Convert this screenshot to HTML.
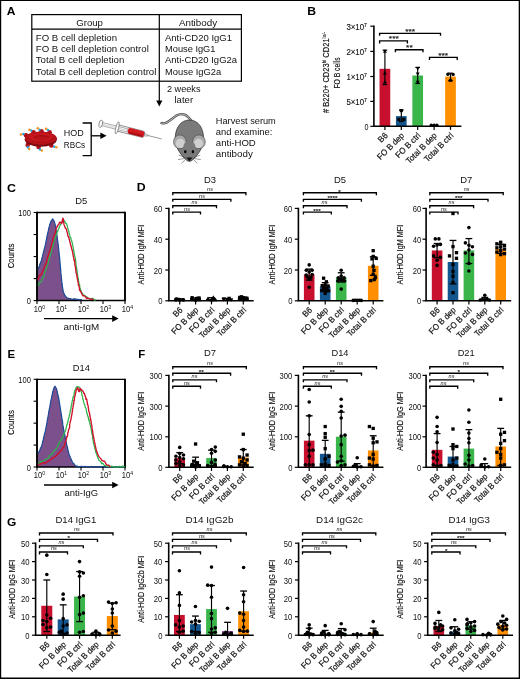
<!DOCTYPE html>
<html lang="en"><head><meta charset="utf-8"><title>Figure</title>
<style>html,body{margin:0;padding:0;background:#fff}svg{display:block}text{font-family:"Liberation Sans",sans-serif}</style></head>
<body>
<svg width="520" height="679" viewBox="0 0 520 679" font-family="'Liberation Sans', sans-serif" fill="#111">
<rect x="0" y="0" width="520" height="679" fill="#fff"/>
<text x="6.7" y="14.9" font-size="11.4" font-weight="bold" textLength="8.7" lengthAdjust="spacingAndGlyphs" fill="#000">A</text>
<text x="307.2" y="15.1" font-size="11.4" font-weight="bold" textLength="8.8" lengthAdjust="spacingAndGlyphs" fill="#000">B</text>
<text x="6.9" y="191.9" font-size="11.4" font-weight="bold" textLength="9" lengthAdjust="spacingAndGlyphs" fill="#000">C</text>
<text x="136.7" y="191.4" font-size="11.4" font-weight="bold" textLength="8.9" lengthAdjust="spacingAndGlyphs" fill="#000">D</text>
<text x="7.6" y="358.4" font-size="11.4" font-weight="bold" fill="#000">E</text>
<text x="138.2" y="358.4" font-size="11.4" font-weight="bold" fill="#000">F</text>
<text x="7" y="526.4" font-size="11.4" font-weight="bold" textLength="9.3" lengthAdjust="spacingAndGlyphs" fill="#000">G</text>
<g id="panelA">
<rect x="31.8" y="14.6" width="209.6" height="66.6" fill="none" stroke="#000" stroke-width="1.2"/>
<line x1="31.8" y1="29.2" x2="241.4" y2="29.2" stroke="#000" stroke-width="1.2"/>
<line x1="159.3" y1="14.6" x2="159.3" y2="101.5" stroke="#000" stroke-width="1.2"/>
<path d="M156.2 100.6L162.4 100.6L159.3 106.4Z" fill="#000"/>
<text x="89.6" y="25.6" font-size="9.1" text-anchor="middle" textLength="26.8" lengthAdjust="spacingAndGlyphs">Group</text>
<text x="198" y="25.6" font-size="9.1" text-anchor="middle" textLength="38.2" lengthAdjust="spacingAndGlyphs">Antibody</text>
<text x="35.8" y="40.6" font-size="9.1" textLength="81.2" lengthAdjust="spacingAndGlyphs">FO B cell depletion</text>
<text x="165" y="40.6" font-size="9.1" textLength="67" lengthAdjust="spacingAndGlyphs">Anti-CD20 IgG1</text>
<text x="35.8" y="51.9" font-size="9.1" textLength="113" lengthAdjust="spacingAndGlyphs">FO B cell depletion control</text>
<text x="165" y="51.9" font-size="9.1" textLength="50.5" lengthAdjust="spacingAndGlyphs">Mouse IgG1</text>
<text x="35.8" y="63.2" font-size="9.1" textLength="88.5" lengthAdjust="spacingAndGlyphs">Total B cell depletion</text>
<text x="165" y="63.2" font-size="9.1" textLength="72" lengthAdjust="spacingAndGlyphs">Anti-CD20 IgG2a</text>
<text x="35.8" y="74.5" font-size="9.1" textLength="120.6" lengthAdjust="spacingAndGlyphs">Total B cell depletion control</text>
<text x="165" y="74.5" font-size="9.1" textLength="56.2" lengthAdjust="spacingAndGlyphs">Mouse IgG2a</text>
<text x="167" y="92" font-size="9.1" textLength="33.5" lengthAdjust="spacingAndGlyphs">2 weeks</text>
<text x="174.5" y="102.6" font-size="9.1" textLength="18.6" lengthAdjust="spacingAndGlyphs">later</text>
<g id="rbc">
<circle cx="26" cy="135.2" r="2.3" fill="#b01019"/>
<circle cx="33.5" cy="132.3" r="2.3" fill="#b01019"/>
<circle cx="41.5" cy="131.2" r="2.3" fill="#b01019"/>
<circle cx="49.6" cy="132.3" r="2.3" fill="#b01019"/>
<circle cx="27.7" cy="145" r="2.3" fill="#b01019"/>
<circle cx="38.6" cy="147" r="2.3" fill="#b01019"/>
<circle cx="51.3" cy="145.4" r="2.3" fill="#b01019"/>
<circle cx="23.3" cy="134" r="1.25" fill="#1ea7e8"/>
<circle cx="21" cy="134.4" r="1.25" fill="#f7931e"/>
<circle cx="31.1" cy="130.6" r="1.25" fill="#1ea7e8"/>
<circle cx="29.4" cy="129.8" r="1.25" fill="#f7931e"/>
<circle cx="39.5" cy="129.8" r="1.25" fill="#1ea7e8"/>
<circle cx="37.8" cy="128.3" r="1.25" fill="#f7931e"/>
<circle cx="47.9" cy="130" r="1.25" fill="#1ea7e8"/>
<circle cx="46.1" cy="128.8" r="1.25" fill="#f7931e"/>
<circle cx="27.9" cy="147.3" r="1.25" fill="#1ea7e8"/>
<circle cx="29.1" cy="149" r="1.25" fill="#f7931e"/>
<circle cx="40.1" cy="149.4" r="1.25" fill="#1ea7e8"/>
<circle cx="41.9" cy="150.5" r="1.25" fill="#f7931e"/>
<circle cx="54.2" cy="146.7" r="1.25" fill="#1ea7e8"/>
<circle cx="56.3" cy="147.3" r="1.25" fill="#f7931e"/>
<ellipse cx="40.8" cy="139.2" rx="16.1" ry="7.5" fill="#7c090f"/>
<ellipse cx="40.8" cy="138.2" rx="15.8" ry="6.6" fill="#b41219"/>
<ellipse cx="41" cy="137" rx="12.5" ry="4.2" fill="#c5161d"/>
<ellipse cx="41.4" cy="137.2" rx="7.6" ry="2.1" fill="#a60e15"/>
<ellipse cx="41.6" cy="137.8" rx="6.4" ry="1.6" fill="#b81319"/>
</g>
<text x="63.8" y="136.3" font-size="9.1" textLength="20" lengthAdjust="spacingAndGlyphs">HOD</text>
<text x="63.8" y="148.1" font-size="9.1" textLength="21.4" lengthAdjust="spacingAndGlyphs">RBCs</text>
<path d="M82.6 123H91.2V155.6H82.6" fill="none" stroke="#000" stroke-width="1.3"/>
<line x1="91.2" y1="135.8" x2="101.5" y2="135.8" stroke="#000" stroke-width="1.3"/>
<path d="M100.4 132.6L106.6 135.8L100.4 139Z" fill="#000"/>
<g id="syringe" transform="translate(99.7 123.5) rotate(14)">
<line x1="49" y1="0" x2="63.8" y2="0" stroke="#777" stroke-width="0.7"/>
<path d="M45.6 -1.5L50 -0.5V0.5L45.6 1.5Z" fill="#ddd" stroke="#666" stroke-width="0.4"/>
<rect x="18" y="-3.2" width="27.8" height="6.4" rx="1.5" fill="#fff" stroke="#555" stroke-width="0.6"/>
<rect x="29.1" y="-3.0" width="16.6" height="6.0" rx="1.7" fill="#d3191f"/>
<rect x="30.2" y="0.9" width="14.6" height="1.8" rx="0.9" fill="#a50d13"/>
<rect x="2" y="-1.6" width="26.6" height="3.2" fill="#fff" stroke="#666" stroke-width="0.5"/>
<line x1="2.4" y1="0" x2="28" y2="0" stroke="#999" stroke-width="0.4"/>
<ellipse cx="1.1" cy="0" rx="1.7" ry="3.8" fill="#fff" stroke="#555" stroke-width="0.6"/>
<ellipse cx="18" cy="0" rx="1.4" ry="6.2" fill="#fff" stroke="#555" stroke-width="0.6"/>
</g>
<g id="mouse">
<path d="M191.6 121.4C187.5 114.5 182 112.2 176.5 115.6C170.5 119.4 166.5 125.2 160.6 122.8" fill="none" stroke="#333" stroke-width="2.3"/>
<path d="M191.6 121.4C187.5 114.5 182 112.2 176.5 115.6C170.5 119.4 166.5 125.2 160.6 122.8" fill="none" stroke="#aaa" stroke-width="1.2"/>
<path d="M189.4 120C198.5 120 203.6 128.5 203.6 138.5C203.6 148 197.5 155.4 192.4 160C190.6 161.8 188.2 161.8 186.4 160C181.2 155.4 175.2 148 175.2 138.5C175.2 128.5 180.4 120 189.4 120Z" fill="#7a7a7a" stroke="#222" stroke-width="0.7"/>
<ellipse cx="179.9" cy="141.8" rx="6.4" ry="6.9" fill="#a9a9a9" stroke="#444" stroke-width="0.6"/>
<ellipse cx="180.3" cy="143.4" rx="4.6" ry="4.6" fill="#cfcfcf"/>
<ellipse cx="198.9" cy="141.8" rx="6.4" ry="6.9" fill="#a9a9a9" stroke="#444" stroke-width="0.6"/>
<ellipse cx="198.5" cy="143.4" rx="4.6" ry="4.6" fill="#cfcfcf"/>
<path d="M183.6 146.5C185 150 186 156 189.4 158.6C192.8 156 193.8 150 195.2 146.5C196.5 140 182.3 140 183.6 146.5Z" fill="#7a7a7a"/>
<ellipse cx="185.3" cy="151.7" rx="1.2" ry="1.6" fill="#000"/>
<ellipse cx="192.9" cy="151.7" rx="1.2" ry="1.6" fill="#000"/>
<path d="M186.2 157.6L192.6 157.6L189.4 161.2Z" fill="#111"/>
<line x1="184.6" y1="157.4" x2="178.6" y2="155" stroke="#333" stroke-width="0.5"/>
<line x1="184.8" y1="158.4" x2="178" y2="159.6" stroke="#333" stroke-width="0.5"/>
<line x1="185.4" y1="159.4" x2="181.6" y2="163.4" stroke="#333" stroke-width="0.5"/>
<line x1="194.2" y1="157.4" x2="200.2" y2="155" stroke="#333" stroke-width="0.5"/>
<line x1="194" y1="158.4" x2="200.8" y2="159.6" stroke="#333" stroke-width="0.5"/>
<line x1="193.4" y1="159.4" x2="197.2" y2="163.4" stroke="#333" stroke-width="0.5"/>
</g>
<text x="215.8" y="123.5" font-size="9.1" textLength="60" lengthAdjust="spacingAndGlyphs">Harvest serum</text>
<text x="215.8" y="134.67" font-size="9.1" textLength="56.6" lengthAdjust="spacingAndGlyphs">and examine:</text>
<text x="215.8" y="145.84" font-size="9.1" textLength="40" lengthAdjust="spacingAndGlyphs">anti-HOD</text>
<text x="215.8" y="157.01" font-size="9.1" textLength="37" lengthAdjust="spacingAndGlyphs">antibody</text>
</g>
<g id="panelB">
<rect x="379.55" y="68.8" width="10.7" height="57.5" fill="#c8102e"/>
<rect x="395.95" y="116.1" width="10.7" height="10.2" fill="#14568f"/>
<rect x="412.35" y="75.5" width="10.7" height="50.8" fill="#3ab54a"/>
<rect x="445.15" y="76.6" width="10.7" height="49.7" fill="#ff8f00"/>
<line x1="384.9" y1="50.2" x2="384.9" y2="84.5" stroke="#000" stroke-width="1.15"/>
<line x1="382.6" y1="50.2" x2="387.2" y2="50.2" stroke="#000" stroke-width="1.3"/>
<line x1="382.6" y1="84.5" x2="387.2" y2="84.5" stroke="#000" stroke-width="1.3"/>
<line x1="401.3" y1="110" x2="401.3" y2="121.5" stroke="#000" stroke-width="1.15"/>
<line x1="399" y1="110" x2="403.6" y2="110" stroke="#000" stroke-width="1.3"/>
<line x1="399" y1="121.5" x2="403.6" y2="121.5" stroke="#000" stroke-width="1.3"/>
<line x1="417.7" y1="67.4" x2="417.7" y2="83.4" stroke="#000" stroke-width="1.15"/>
<line x1="415.4" y1="67.4" x2="420" y2="67.4" stroke="#000" stroke-width="1.3"/>
<line x1="415.4" y1="83.4" x2="420" y2="83.4" stroke="#000" stroke-width="1.3"/>
<line x1="450.5" y1="73.2" x2="450.5" y2="80.8" stroke="#000" stroke-width="1.15"/>
<line x1="448.2" y1="73.2" x2="452.8" y2="73.2" stroke="#000" stroke-width="1.3"/>
<line x1="448.2" y1="80.8" x2="452.8" y2="80.8" stroke="#000" stroke-width="1.3"/>
<g fill="#000">
<path d="M384.9 49.25L386.85 52.76L382.94 52.76Z"/>
<path d="M384.9 71.05L386.85 74.56L382.94 74.56Z"/>
<path d="M384.9 80.05L386.85 83.56L382.94 83.56Z"/>
<rect x="399.74" y="109.04" width="3.13" height="3.13"/>
<rect x="397.14" y="117.84" width="3.13" height="3.13"/>
<rect x="402.34" y="117.84" width="3.13" height="3.13"/>
<path d="M417.7 70.55L419.65 67.04L415.75 67.04Z"/>
<path d="M417.7 75.95L419.65 72.44L415.75 72.44Z"/>
<path d="M417.7 84.16L419.65 80.64L415.75 80.64Z"/>
<circle cx="431.3" cy="125.3" r="1.7"/>
<circle cx="434.1" cy="125.3" r="1.7"/>
<circle cx="436.9" cy="125.3" r="1.7"/>
<circle cx="447.9" cy="74.2" r="1.7"/>
<circle cx="453.1" cy="74.4" r="1.7"/>
<circle cx="450.5" cy="80.2" r="1.7"/>
</g>
<path d="M373.9 25.55V126.3H461.4" fill="none" stroke="#000" stroke-width="1.6"/>
<line x1="384.9" y1="126.3" x2="384.9" y2="129.9" stroke="#000" stroke-width="1.2"/>
<line x1="401.3" y1="126.3" x2="401.3" y2="129.9" stroke="#000" stroke-width="1.2"/>
<line x1="417.7" y1="126.3" x2="417.7" y2="129.9" stroke="#000" stroke-width="1.2"/>
<line x1="434.1" y1="126.3" x2="434.1" y2="129.9" stroke="#000" stroke-width="1.2"/>
<line x1="450.5" y1="126.3" x2="450.5" y2="129.9" stroke="#000" stroke-width="1.2"/>
<text x="388.3" y="136.1" font-size="8.5" text-anchor="end" textLength="9.79" lengthAdjust="spacingAndGlyphs" transform="rotate(-45 388.3 136.1)" stroke="#111" stroke-width="0.2">B6</text>
<text x="404.7" y="136.1" font-size="8.5" text-anchor="end" textLength="34.21" lengthAdjust="spacingAndGlyphs" transform="rotate(-45 404.7 136.1)" stroke="#111" stroke-width="0.2">FO B dep</text>
<text x="421.1" y="136.1" font-size="8.5" text-anchor="end" textLength="31.52" lengthAdjust="spacingAndGlyphs" transform="rotate(-45 421.1 136.1)" stroke="#111" stroke-width="0.2">FO B ctrl</text>
<text x="437.5" y="136.1" font-size="8.5" text-anchor="end" textLength="39.98" lengthAdjust="spacingAndGlyphs" transform="rotate(-45 437.5 136.1)" stroke="#111" stroke-width="0.2">Total B dep</text>
<text x="453.9" y="136.1" font-size="8.5" text-anchor="end" textLength="37.31" lengthAdjust="spacingAndGlyphs" transform="rotate(-45 453.9 136.1)" stroke="#111" stroke-width="0.2">Total B ctrl</text>
<path d="M379.6 35.8V33.3H440.5V35.8" fill="none" stroke="#000" stroke-width="1.35"/>
<text x="410.2" y="33.8" font-size="7.8" text-anchor="middle" textLength="9.9" lengthAdjust="spacingAndGlyphs" stroke="#111" stroke-width="0.15">***</text>
<path d="M379.6 43.4V40.9H407.4V43.4" fill="none" stroke="#000" stroke-width="1.35"/>
<text x="393.8" y="41.4" font-size="7.8" text-anchor="middle" textLength="9.9" lengthAdjust="spacingAndGlyphs" stroke="#111" stroke-width="0.15">***</text>
<path d="M395.4 52.2V49.7H423V52.2" fill="none" stroke="#000" stroke-width="1.35"/>
<text x="409.4" y="50.2" font-size="7.8" text-anchor="middle" textLength="6.6" lengthAdjust="spacingAndGlyphs" stroke="#111" stroke-width="0.15">**</text>
<path d="M429.5 59.9V57.4H457.2V59.9" fill="none" stroke="#000" stroke-width="1.35"/>
<text x="443.2" y="57.9" font-size="7.8" text-anchor="middle" textLength="9.9" lengthAdjust="spacingAndGlyphs" stroke="#111" stroke-width="0.15">***</text>
<line x1="370.3" y1="26.2" x2="373.9" y2="26.2" stroke="#000" stroke-width="1.2"/>
<text x="346.4" y="29.9" font-size="8.2" textLength="20.6" lengthAdjust="spacingAndGlyphs" stroke="#111" stroke-width="0.12">3×10<tspan font-size="5.4" dy="-3.2">7</tspan></text>
<line x1="370.3" y1="51.4" x2="373.9" y2="51.4" stroke="#000" stroke-width="1.2"/>
<text x="346.4" y="55.1" font-size="8.2" textLength="20.6" lengthAdjust="spacingAndGlyphs" stroke="#111" stroke-width="0.12">2×10<tspan font-size="5.4" dy="-3.2">7</tspan></text>
<line x1="370.3" y1="76.5" x2="373.9" y2="76.5" stroke="#000" stroke-width="1.2"/>
<text x="346.4" y="80.2" font-size="8.2" textLength="20.6" lengthAdjust="spacingAndGlyphs" stroke="#111" stroke-width="0.12">1×10<tspan font-size="5.4" dy="-3.2">7</tspan></text>
<line x1="370.3" y1="101.4" x2="373.9" y2="101.4" stroke="#000" stroke-width="1.2"/>
<text x="346.4" y="105.1" font-size="8.2" textLength="20.6" lengthAdjust="spacingAndGlyphs" stroke="#111" stroke-width="0.12">5×10<tspan font-size="5.4" dy="-3.2">7</tspan></text>
<line x1="370.3" y1="126.3" x2="373.9" y2="126.3" stroke="#000" stroke-width="1.2"/>
<text x="368.6" y="129.9" font-size="8.2" text-anchor="end" textLength="4" lengthAdjust="spacingAndGlyphs">0</text>
<text x="329.2" y="72.5" font-size="9.2" text-anchor="middle" textLength="81" lengthAdjust="spacingAndGlyphs" stroke="#111" stroke-width="0.15" transform="rotate(-90 329.2 72.5)"># B220+ CD23<tspan font-size="5.6" dy="-3.2">hi</tspan><tspan dy="3.2"> CD21</tspan><tspan font-size="5.6" dy="-3.2">lo/-</tspan></text>
<text x="339.8" y="73" font-size="9.2" text-anchor="middle" textLength="31" lengthAdjust="spacingAndGlyphs" transform="rotate(-90 339.8 73)" stroke="#111" stroke-width="0.15">FO B cells</text>
</g>
<g id="panelC">
<path d="M37.9 269.54L38.4 268.22L38.71 267.61L39.18 266.36L39.68 265.41L39.9 263.95L40.37 263.39L40.66 262.26L41.2 260.96L41.63 259.73L41.76 258.99L42.19 257.15L42.48 256.58L42.8 254.85L43.08 253.5L43.46 252.57L43.68 251.27L44 250.11L44.19 249.01L44.57 248.24L44.77 246.95L45.19 246.04L45.35 244.27L45.65 243.59L45.81 242.65L46.08 241.47L46.28 240.01L46.56 239.31L46.72 237.95L46.87 236.52L47.17 235.82L47.47 234.16L47.77 233.3L47.99 231.84L48.33 230.7L48.52 229.55L48.71 228.38L49.12 226.91L49.37 226.42L49.55 224.85L50.1 223.87L50.39 223L50.71 222L51.25 220.7L51.91 219.88L52.7 218.8L53.74 220.63L54.3 221.66L54.67 222.89L55 223.99L55.22 225.08L55.54 226L55.63 227.63L55.92 228.85L56.12 230.02L56.34 231.24L56.47 232.39L56.59 233.08L56.83 234.29L57.04 235.86L57.21 236.92L57.38 237.64L57.39 239.17L57.54 239.94L57.75 241.7L57.99 242.48L58.04 243.88L58.3 244.99L58.41 246.23L58.57 247.8L58.69 248.72L58.78 249.71L58.86 251.18L59.12 252.15L59.09 253.62L59.34 254.88L59.28 255.66L59.55 256.94L59.66 258.15L59.73 259.7L59.93 260.57L59.93 262.16L60.07 262.95L60.16 264.26L60.27 265.39L60.31 266.4L60.53 268.22L60.63 268.95L60.76 270.14L60.75 271.63L60.78 272.44L60.9 274.03L61.21 275.15L61.16 276.13L61.45 277.49L61.46 278.53L61.54 279.45L61.73 280.49L61.74 281.8L61.96 282.72L62.09 283.96L62.33 285.08L62.32 286.58L62.55 287.19L62.81 288.84L62.85 289.48L63.15 290.81L63.43 292.2L63.89 293.36L64.33 294.29L64.66 295.31L65.7 296.27L66.86 297.9L68.05 298.13L69.11 298.53L70.2 298.51L71.37 299.22L72.6 299.37L73.71 298.88L74.78 298.94L76.12 299L77.29 299.59L78.42 299.36L79.55 299.76L80.69 299.69L81.92 299.73L81.92 300.6L37 300.6Z" fill="#7c508a"/>
<line x1="37" y1="211.85" x2="37" y2="301.35" stroke="#000" stroke-width="1.9"/>
<line x1="125" y1="211.85" x2="125" y2="301.35" stroke="#000" stroke-width="1.9"/>
<line x1="37" y1="212.5" x2="125" y2="212.5" stroke="#000" stroke-width="1.3"/>
<line x1="37" y1="300.6" x2="125" y2="300.6" stroke="#000" stroke-width="1.5"/>
<path d="M37.9 269.54L38.4 268.22L38.71 267.61L39.18 266.36L39.68 265.41L39.9 263.95L40.37 263.39L40.66 262.26L41.2 260.96L41.63 259.73L41.76 258.99L42.19 257.15L42.48 256.58L42.8 254.85L43.08 253.5L43.46 252.57L43.68 251.27L44 250.11L44.19 249.01L44.57 248.24L44.77 246.95L45.19 246.04L45.35 244.27L45.65 243.59L45.81 242.65L46.08 241.47L46.28 240.01L46.56 239.31L46.72 237.95L46.87 236.52L47.17 235.82L47.47 234.16L47.77 233.3L47.99 231.84L48.33 230.7L48.52 229.55L48.71 228.38L49.12 226.91L49.37 226.42L49.55 224.85L50.1 223.87L50.39 223L50.71 222L51.25 220.7L51.91 219.88L52.7 218.8L53.74 220.63L54.3 221.66L54.67 222.89L55 223.99L55.22 225.08L55.54 226L55.63 227.63L55.92 228.85L56.12 230.02L56.34 231.24L56.47 232.39L56.59 233.08L56.83 234.29L57.04 235.86L57.21 236.92L57.38 237.64L57.39 239.17L57.54 239.94L57.75 241.7L57.99 242.48L58.04 243.88L58.3 244.99L58.41 246.23L58.57 247.8L58.69 248.72L58.78 249.71L58.86 251.18L59.12 252.15L59.09 253.62L59.34 254.88L59.28 255.66L59.55 256.94L59.66 258.15L59.73 259.7L59.93 260.57L59.93 262.16L60.07 262.95L60.16 264.26L60.27 265.39L60.31 266.4L60.53 268.22L60.63 268.95L60.76 270.14L60.75 271.63L60.78 272.44L60.9 274.03L61.21 275.15L61.16 276.13L61.45 277.49L61.46 278.53L61.54 279.45L61.73 280.49L61.74 281.8L61.96 282.72L62.09 283.96L62.33 285.08L62.32 286.58L62.55 287.19L62.81 288.84L62.85 289.48L63.15 290.81L63.43 292.2L63.89 293.36L64.33 294.29L64.66 295.31L65.7 296.27L66.86 297.9L68.05 298.13L69.11 298.53L70.2 298.51L71.37 299.22L72.6 299.37L73.71 298.88L74.78 298.94L76.12 299L77.29 299.59L78.42 299.36L79.55 299.76L80.69 299.69L81.92 299.73" fill="none" stroke="#1b4a96" stroke-width="1.2" stroke-linejoin="round"/>
<path d="M37.9 285.31L38.97 284.88L39.42 282.29L40.69 282.38L41.45 280.96L42.07 279.8L42.34 278.71L42.93 277.41L43.7 276.82L43.96 275.93L44.31 273.87L44.68 271.97L45.3 271.41L45.89 270.18L46.05 269.32L46.12 267.77L46.49 266.82L47.23 266.03L47.15 265.2L47.77 264.4L48.14 262.99L48.41 261.88L48.82 260.07L48.75 259.89L49.33 258.41L49.57 256.85L50.08 255.8L50.35 254.73L50.7 253.41L50.81 253.19L51.36 251.57L51.47 250.67L51.71 248.71L51.96 248.32L52.32 247.5L52.67 246.35L53.18 245.27L53.47 243.31L53.89 242.32L54.09 240.55L54.82 239.63L54.8 238.58L55.49 237.82L55.62 236.88L55.94 235.55L56.43 234.32L57.1 232.56L57.41 231.22L57.76 231.26L58.55 229.08L58.95 228.26L59.42 226.35L60.21 225.3L60.99 223.87L61.52 222.88L61.93 221.98L62.53 222.35L63.36 220.38L63.63 219.74L64.19 221.73L64.8 221.23L65.5 223.18L66.46 223.53L66.9 224.56L67.42 226.89L67.82 228.26L68.18 229.35L68.25 229.8L68.6 231.18L68.97 231.36L69.13 233.68L69.56 234.29L69.75 235.25L70.12 237.04L70.5 237.55L70.87 237.69L70.94 238.96L71.3 240.02L71.83 241.35L72.31 243.24L72.62 245.16L72.67 245.26L72.99 246.45L73.35 248.2L73.34 249.49L73.73 250.18L73.75 250.67L74.04 252.47L74.3 254.13L74.46 254.28L74.67 255.65L74.98 257.26L75.26 258.08L75.58 259.08L75.66 261.43L75.72 261.74L75.66 263.13L76.06 264.02L76.01 264.8L76.31 266.95L76.74 267.65L76.59 268.91L76.78 270.62L77.09 270.19L77.06 271.44L77.39 273.74L77.44 273.53L77.61 275.28L77.81 276.07L77.82 276.97L78.29 278.57L78.42 279.19L78.55 280.47L78.72 281.89L78.91 283.57L78.99 283.66L79.56 284.69L79.84 286.69L79.77 287.92L80.52 289.02L80.77 290.28L81.13 290.85L81.68 292.58L82.43 293.17L83.22 294.88L84.14 295.61L84.74 295.37L85.65 296.44L87.14 297.05L88.37 298.54L89.42 299.09L91.09 298.58L92.04 298.47L93.11 298.58L94.77 300.13L95.77 299.73" fill="none" stroke="#2db34a" stroke-width="1.25" stroke-linejoin="round"/>
<path d="M37.9 280.12L38.36 278.48L38.84 277.47L39.02 276.66L40.16 274.79L40.64 274.28L41.52 274.56L42.01 273.15L42.33 271.68L43.16 270.52L43.58 269.19L43.89 268.15L44.79 267L45.16 264.99L45.69 264.74L46.21 263.35L46.55 262.19L46.81 260.52L47.2 259.45L47.11 258.99L47.56 256.57L48.05 256.67L48.37 254.89L48.79 253.47L49.27 251.99L49.75 251.28L50.08 250.34L50.43 249.53L50.35 248.15L51.06 247.36L51.19 246.34L51.34 244.88L51.83 243.92L51.91 241.89L52.67 241.64L52.9 239.26L52.91 238.63L53.59 237.21L53.63 236.9L54.01 235.26L54.53 234.2L55.23 233.22L55.62 231.55L55.57 230.16L55.93 229.54L56.49 227.82L56.76 227.41L57.74 225.34L58.43 224.63L58.79 224.4L59.43 222.74L60.05 222.08L61.6 223.48L61.85 223.01L62.26 221.12L62.37 219.73L62.78 219.84L62.84 218.08L63.31 219.1L63.52 219.69L63.44 221.9L63.83 223.13L63.97 224.44L64.54 225.77L64.6 225.95L65.41 228.28L66.52 229.14L66.74 230.94L67.03 231.82L67.45 233.08L67.63 234.22L67.85 236.03L68.57 236.76L68.71 237.41L69.11 239.26L69.51 239.5L69.66 241.55L70.07 242.18L70.43 244.23L70.61 245.49L71.15 245.82L71.36 247.85L71.51 247.94L71.85 249.59L72.47 251.18L72.42 251.28L72.82 253.38L72.89 254.48L73.09 254.5L73.3 256.66L73.59 257.04L73.8 258.26L73.9 260.27L74.5 260.01L74.74 262.62L74.94 263.11L74.81 265.11L75.33 266.03L75.39 267.11L75.5 267.71L75.56 268.81L75.86 270.59L75.94 272.15L76.44 273.5L76.73 274.74L76.77 275.9L77.04 275.68L77.05 277.15L77.37 279.14L77.79 279.95L77.73 281.48L78.2 282.11L78.38 283.68L78.32 284.69L78.92 286.13L79.22 286.7L79.53 289.06L79.46 290.06L80.17 290.9L80.53 291.13L81.3 292.63L81.91 294.03L82.84 295.75L84.05 295.75L85.18 296.57L86.71 298.63L87.69 297.91L88.76 298.51L90.07 298.8L91.09 299.41L92.23 299.01L93.46 299.73" fill="none" stroke="#d0102c" stroke-width="1.35" stroke-linejoin="round"/>
<line x1="33.6" y1="212.5" x2="37" y2="212.5" stroke="#000" stroke-width="1.1"/>
<line x1="37" y1="300.6" x2="37" y2="304" stroke="#000" stroke-width="1.1"/>
<text x="39.4" y="311.9" font-size="8.3" text-anchor="middle" textLength="11.3" lengthAdjust="spacingAndGlyphs">10<tspan font-size="5.6" dy="-3.4">0</tspan></text>
<line x1="33.6" y1="234.53" x2="37" y2="234.53" stroke="#000" stroke-width="1.1"/>
<line x1="59" y1="300.6" x2="59" y2="304" stroke="#000" stroke-width="1.1"/>
<text x="61.4" y="311.9" font-size="8.3" text-anchor="middle" textLength="11.3" lengthAdjust="spacingAndGlyphs">10<tspan font-size="5.6" dy="-3.4">1</tspan></text>
<line x1="33.6" y1="256.55" x2="37" y2="256.55" stroke="#000" stroke-width="1.1"/>
<line x1="81" y1="300.6" x2="81" y2="304" stroke="#000" stroke-width="1.1"/>
<text x="83.4" y="311.9" font-size="8.3" text-anchor="middle" textLength="11.3" lengthAdjust="spacingAndGlyphs">10<tspan font-size="5.6" dy="-3.4">2</tspan></text>
<line x1="33.6" y1="278.58" x2="37" y2="278.58" stroke="#000" stroke-width="1.1"/>
<line x1="103" y1="300.6" x2="103" y2="304" stroke="#000" stroke-width="1.1"/>
<text x="105.4" y="311.9" font-size="8.3" text-anchor="middle" textLength="11.3" lengthAdjust="spacingAndGlyphs">10<tspan font-size="5.6" dy="-3.4">3</tspan></text>
<line x1="33.6" y1="300.6" x2="37" y2="300.6" stroke="#000" stroke-width="1.1"/>
<line x1="125" y1="300.6" x2="125" y2="304" stroke="#000" stroke-width="1.1"/>
<text x="127.4" y="311.9" font-size="8.3" text-anchor="middle" textLength="11.3" lengthAdjust="spacingAndGlyphs">10<tspan font-size="5.6" dy="-3.4">4</tspan></text>
<text x="30.9" y="216" font-size="8.4" text-anchor="end" textLength="12.6" lengthAdjust="spacingAndGlyphs">100</text>
<text x="30.9" y="304.3" font-size="8.4" text-anchor="end" textLength="4.2" lengthAdjust="spacingAndGlyphs">0</text>
<text x="14" y="255.95" font-size="9" text-anchor="middle" textLength="24.8" lengthAdjust="spacingAndGlyphs" transform="rotate(-90 14 255.95)" stroke="#111" stroke-width="0.15">Counts</text>
<text x="81.3" y="204.1" font-size="9.9" text-anchor="middle" textLength="12.06" lengthAdjust="spacingAndGlyphs">D5</text>
<line x1="44" y1="318.6" x2="113.5" y2="318.6" stroke="#000" stroke-width="1.3"/>
<path d="M112.2 315.3L118.6 318.6L112.2 321.9Z" fill="#000"/>
<text x="81.4" y="329.8" font-size="9.4" text-anchor="middle" textLength="35.6" lengthAdjust="spacingAndGlyphs">anti-IgM</text>
</g>
<g id="panelE">
<path d="M37.9 453.85L38.54 452.44L38.99 451.72L39.6 450.38L40.16 449.43L40.48 447.98L41.04 447.45L41.43 446.34L41.91 444.9L42.27 443.53L42.4 442.78L42.83 440.95L43.12 440.37L43.45 438.65L43.68 437.36L44.01 436.49L44.23 435.2L44.55 434.03L44.73 432.93L45.12 432.16L45.32 430.87L45.67 429.96L45.78 428.2L46.07 427.46L46.22 426.46L46.49 425.23L46.69 423.71L46.95 422.96L47.11 421.54L47.25 420.06L47.5 419.4L47.75 417.76L47.99 416.94L48.15 415.51L48.43 414.41L48.57 413.22L48.7 412L49.06 410.49L49.25 409.95L49.38 408.33L49.77 407.2L49.9 406.18L50.05 405.03L50.42 403.58L50.54 402.42L50.78 400.99L50.92 400.26L51.35 398.92L51.59 397.77L51.8 396.5L52.04 395.11L52.39 393.54L52.55 392.74L52.92 391.54L53.2 390.28L53.56 389.26L53.84 388.16L54.94 386.21L55.79 387.47L56.6 389.1L56.89 390.21L57.19 390.98L57.32 392.43L57.59 393.12L57.87 394.72L58.18 395.34L58.29 396.58L58.62 397.53L58.8 398.61L59.01 400.11L59.18 400.94L59.34 401.85L59.46 403.24L59.78 404.13L59.81 405.52L60.11 406.7L60.11 407.4L60.43 408.6L60.62 409.81L60.78 411.37L61.06 412.26L61.16 413.86L61.38 414.66L61.55 415.98L61.76 417.13L61.88 418.15L62.19 419.99L62.38 420.72L62.59 421.92L62.67 423.42L62.78 424.27L62.98 425.91L63.37 427.06L63.39 428.08L63.75 429.49L63.87 430.53L64.05 431.45L64.34 432.49L64.45 433.8L64.77 434.72L64.95 436.01L65.25 437.19L65.28 438.74L65.6 439.41L65.96 441.11L66.09 441.81L66.48 443.2L66.63 444.53L66.96 445.65L67.3 446.53L67.52 447.51L67.68 448.56L67.96 450.29L68.32 451.34L68.54 452.55L68.8 453.35L69.25 454.8L69.7 455.93L70.01 456.44L70.29 457.49L70.85 458.55L71.42 460.11L71.95 460.85L72.47 462.22L73.02 463.13L73.93 463.68L74.89 465.15L75.76 466.07L77.18 466.09L78.36 466.96L79.49 466.85L80.77 466.47L81.74 466.42L82.9 467L83.95 466.47L85.19 466.56L86.34 466.47L87.46 466.66L88.43 467L89.58 466.58L90.73 466.48L91.71 466.44L92.88 467L94.03 466.83L95.06 466.63L96.36 467L97.29 467L98.51 466.57L99.61 467L100.75 466.91L101.84 466.61L102.89 466.65L104.01 466.49L105.15 467L106.31 466.89L107.37 467L108.47 466.66L109.69 466.67L110.69 467L111.85 466.68L112.97 466.86L113.97 466.63L115.09 466.63L116.2 466.84L117.43 466.51L118.58 466.67L119.71 466.81L120.74 466.58L121.77 467L122.9 467L124.18 467L125.19 466.83L125.19 467L37 467Z" fill="#7c508a"/>
<line x1="37" y1="378.65" x2="37" y2="467.75" stroke="#000" stroke-width="1.9"/>
<line x1="125" y1="378.65" x2="125" y2="467.75" stroke="#000" stroke-width="1.9"/>
<line x1="37" y1="379.3" x2="125" y2="379.3" stroke="#000" stroke-width="1.3"/>
<line x1="37" y1="467" x2="125" y2="467" stroke="#000" stroke-width="1.5"/>
<path d="M37.9 453.85L38.54 452.44L38.99 451.72L39.6 450.38L40.16 449.43L40.48 447.98L41.04 447.45L41.43 446.34L41.91 444.9L42.27 443.53L42.4 442.78L42.83 440.95L43.12 440.37L43.45 438.65L43.68 437.36L44.01 436.49L44.23 435.2L44.55 434.03L44.73 432.93L45.12 432.16L45.32 430.87L45.67 429.96L45.78 428.2L46.07 427.46L46.22 426.46L46.49 425.23L46.69 423.71L46.95 422.96L47.11 421.54L47.25 420.06L47.5 419.4L47.75 417.76L47.99 416.94L48.15 415.51L48.43 414.41L48.57 413.22L48.7 412L49.06 410.49L49.25 409.95L49.38 408.33L49.77 407.2L49.9 406.18L50.05 405.03L50.42 403.58L50.54 402.42L50.78 400.99L50.92 400.26L51.35 398.92L51.59 397.77L51.8 396.5L52.04 395.11L52.39 393.54L52.55 392.74L52.92 391.54L53.2 390.28L53.56 389.26L53.84 388.16L54.94 386.21L55.79 387.47L56.6 389.1L56.89 390.21L57.19 390.98L57.32 392.43L57.59 393.12L57.87 394.72L58.18 395.34L58.29 396.58L58.62 397.53L58.8 398.61L59.01 400.11L59.18 400.94L59.34 401.85L59.46 403.24L59.78 404.13L59.81 405.52L60.11 406.7L60.11 407.4L60.43 408.6L60.62 409.81L60.78 411.37L61.06 412.26L61.16 413.86L61.38 414.66L61.55 415.98L61.76 417.13L61.88 418.15L62.19 419.99L62.38 420.72L62.59 421.92L62.67 423.42L62.78 424.27L62.98 425.91L63.37 427.06L63.39 428.08L63.75 429.49L63.87 430.53L64.05 431.45L64.34 432.49L64.45 433.8L64.77 434.72L64.95 436.01L65.25 437.19L65.28 438.74L65.6 439.41L65.96 441.11L66.09 441.81L66.48 443.2L66.63 444.53L66.96 445.65L67.3 446.53L67.52 447.51L67.68 448.56L67.96 450.29L68.32 451.34L68.54 452.55L68.8 453.35L69.25 454.8L69.7 455.93L70.01 456.44L70.29 457.49L70.85 458.55L71.42 460.11L71.95 460.85L72.47 462.22L73.02 463.13L73.93 463.68L74.89 465.15L75.76 466.07L77.18 466.09L78.36 466.96L79.49 466.85L80.77 466.47L81.74 466.42L82.9 467L83.95 466.47L85.19 466.56L86.34 466.47L87.46 466.66L88.43 467L89.58 466.58L90.73 466.48L91.71 466.44L92.88 467L94.03 466.83L95.06 466.63L96.36 467L97.29 467L98.51 466.57L99.61 467L100.75 466.91L101.84 466.61L102.89 466.65L104.01 466.49L105.15 467L106.31 466.89L107.37 467L108.47 466.66L109.69 466.67L110.69 467L111.85 466.68L112.97 466.86L113.97 466.63L115.09 466.63L116.2 466.84L117.43 466.51L118.58 466.67L119.71 466.81L120.74 466.58L121.77 467L122.9 467L124.18 467L125.19 466.83" fill="none" stroke="#1b4a96" stroke-width="1.2" stroke-linejoin="round"/>
<path d="M37.9 463.08L39.33 463.29L40.13 461.34L41.65 462.08L42.73 461.17L44.15 460.43L45.22 459.75L46.36 458.74L47.67 458.43L48.48 458.03L49.25 456.39L50.03 454.9L51.07 454.75L52.11 453.7L52.72 453.02L53.23 451.65L54.06 450.87L55.14 450.16L55.42 449.41L56.39 448.75L57.12 447.49L57.54 446.43L58.12 444.67L58.2 444.54L58.95 443.1L59.82 441.48L60.97 440.37L61.57 439.23L62.24 437.84L62.67 437.56L63.37 435.97L63.65 435.17L64.05 433.3L64.46 433.01L64.89 432.11L65.29 430.89L65.87 429.73L66.16 427.78L66.58 426.78L66.72 425.02L67.39 424.12L67.3 423.08L67.93 422.18L67.99 421.1L68.25 419.62L68.61 418.39L69.15 416.61L69.24 415.33L69.36 415.44L69.93 413.32L70.1 412.57L70.19 410.73L70.6 409.73L70.99 408.37L71.14 407.06L71.16 405.84L71.37 405.89L71.85 403.78L71.76 403L72.03 402.87L72.34 400.25L72.75 400.07L72.78 398.17L73.05 396.94L73.5 396.89L73.82 395.87L74.1 394.58L74.18 392.73L74.53 391.8L75.1 389.62L75.46 389.57L76.1 387.83L76.75 386.75L77.58 386.5L79.19 387.09L79.77 387.43L80.04 388.91L80.61 390.02L81.14 391.28L81.62 393.09L81.93 394.93L81.97 394.96L82.35 396.14L82.76 397.89L82.81 399.18L83.24 399.88L83.32 400.36L83.66 402.16L84.11 403.92L84.46 404.17L84.86 405.63L85.37 407.34L85.76 408.08L86.2 409L86.42 411.28L86.62 411.51L86.71 412.82L87.24 413.64L87.34 414.34L87.78 416.41L88.36 417.03L88.36 418.25L88.71 420.08L89.17 419.77L89.29 421.13L89.78 423.54L89.98 423.46L90.21 425.19L90.48 425.96L90.56 426.85L91.09 428.42L91.22 429.05L91.35 430.33L91.52 431.75L91.71 433.54L91.8 433.74L92.37 434.88L92.64 436.98L92.41 438.28L92.99 439.43L93.08 440.74L93.31 441.37L93.48 443.3L93.84 444.08L94.25 445.98L94.52 447.17L94.49 447.37L94.82 448.76L95.34 449.76L95.62 451.63L95.7 452.56L96.46 452.91L96.5 453.67L96.8 454.69L97.7 457.17L97.74 457.93L98.26 458.52L98.93 460.27L99.76 460.93L100.66 461.43L101.66 463.8L102.7 463.07L103.73 464.7L104.98 465.63L106.01 465.71L107.25 466.56L108 466.27L109 466.44L110.55 466.71L111.52 466.07L112.61 466.57L114 466.96L114.92 466.97L115.99 467L117.29 467L118.52 467L119.55 466.28L120.71 466.59L121.84 467L122.9 466L124.24 467L125.19 466.83" fill="none" stroke="#2db34a" stroke-width="1.25" stroke-linejoin="round"/>
<path d="M37.9 465L39.13 464.2L40.38 464.02L41.33 464.05L42.98 462.62L43.98 462.56L45.37 463.29L46.66 462.33L47.78 461.31L49.41 460.6L50.31 459.75L50.94 459.31L52.16 458.78L52.85 457.37L54.09 457.51L55.31 456.5L56.36 455.73L57.2 454.38L58.16 453.63L58.65 453.49L59.61 451.34L60.61 451.71L61.44 450.2L62.19 448.99L62.99 447.71L63.85 447.06L64.29 445.96L64.75 444.99L64.79 443.45L65.61 442.5L65.8 441.32L66.02 439.77L66.57 438.7L66.71 436.58L67.47 436.34L67.68 433.96L67.68 433.32L68.28 431.98L68.24 431.75L68.5 430.12L68.89 429.07L69.46 428.11L69.73 426.29L69.54 424.76L69.78 424.01L70.18 422.21L70.27 421.72L70.84 419.65L71.1 418.93L71.04 418.71L71.33 416.86L71.58 416L71.79 414.76L71.93 414.26L72.22 412.34L72.21 410.93L72.51 411L72.46 409.21L72.92 407.89L73.13 406.16L73.06 405.98L73.45 404.82L73.58 403.75L73.96 402.64L73.83 400.39L74.45 400.28L74.4 398.45L74.53 397.84L74.78 396.32L75.17 395.18L75.33 393.91L75.41 393.51L76.01 392.03L76.02 390.47L76.54 390.1L77.15 387.96L77.5 387.62L78 388.18L78.43 390.15L78.69 391.34L79.3 391.66L79.59 391.39L79.82 389.18L80.24 388.51L82.09 390.49L82.59 390.46L83.53 392.41L83.9 393.44L84.39 393.38L84.89 395.47L85.34 396L85.73 397.37L85.99 399.42L86.75 399.21L87.08 401.76L87.37 402.2L87.33 404.15L87.93 405.01L88.09 406.03L88.22 406.64L88.31 407.75L88.63 409.54L88.74 411.1L89.27 412.46L89.59 413.7L89.65 414.87L89.95 414.66L89.96 416.12L90.29 418.12L90.71 418.93L90.64 420.45L91.11 421.09L91.29 422.66L91.2 423.61L91.69 425.06L91.87 425.63L92.07 427.98L91.88 428.98L92.48 429.82L92.39 430.05L92.71 431.55L92.87 432.91L92.84 434.58L93.09 434.53L93.25 435.75L93.82 438.21L93.85 437.9L93.95 439.37L94.3 440.53L94.42 442.13L94.66 442.71L95.03 443.82L95.2 445.99L95.36 446.19L95.82 447.87L96.1 449.76L96.6 451.02L96.86 451.66L97.41 452.99L97.79 454.1L98.21 455.45L99.07 456.85L99.58 457.39L100.95 458.73L101.86 460.31L103.02 461.02L103.83 460.77L104.77 461.45L105.57 463.21L106.23 464.31L107.34 465.18L108.5 465.13L110.38 466.73" fill="none" stroke="#d0102c" stroke-width="1.35" stroke-linejoin="round"/>
<line x1="33.6" y1="379.3" x2="37" y2="379.3" stroke="#000" stroke-width="1.1"/>
<line x1="37" y1="467" x2="37" y2="470.4" stroke="#000" stroke-width="1.1"/>
<text x="39.4" y="478.3" font-size="8.3" text-anchor="middle" textLength="11.3" lengthAdjust="spacingAndGlyphs">10<tspan font-size="5.6" dy="-3.4">0</tspan></text>
<line x1="33.6" y1="401.23" x2="37" y2="401.23" stroke="#000" stroke-width="1.1"/>
<line x1="59" y1="467" x2="59" y2="470.4" stroke="#000" stroke-width="1.1"/>
<text x="61.4" y="478.3" font-size="8.3" text-anchor="middle" textLength="11.3" lengthAdjust="spacingAndGlyphs">10<tspan font-size="5.6" dy="-3.4">1</tspan></text>
<line x1="33.6" y1="423.15" x2="37" y2="423.15" stroke="#000" stroke-width="1.1"/>
<line x1="81" y1="467" x2="81" y2="470.4" stroke="#000" stroke-width="1.1"/>
<text x="83.4" y="478.3" font-size="8.3" text-anchor="middle" textLength="11.3" lengthAdjust="spacingAndGlyphs">10<tspan font-size="5.6" dy="-3.4">2</tspan></text>
<line x1="33.6" y1="445.07" x2="37" y2="445.07" stroke="#000" stroke-width="1.1"/>
<line x1="103" y1="467" x2="103" y2="470.4" stroke="#000" stroke-width="1.1"/>
<text x="105.4" y="478.3" font-size="8.3" text-anchor="middle" textLength="11.3" lengthAdjust="spacingAndGlyphs">10<tspan font-size="5.6" dy="-3.4">3</tspan></text>
<line x1="33.6" y1="467" x2="37" y2="467" stroke="#000" stroke-width="1.1"/>
<line x1="125" y1="467" x2="125" y2="470.4" stroke="#000" stroke-width="1.1"/>
<text x="127.4" y="478.3" font-size="8.3" text-anchor="middle" textLength="11.3" lengthAdjust="spacingAndGlyphs">10<tspan font-size="5.6" dy="-3.4">4</tspan></text>
<text x="30.9" y="382.8" font-size="8.4" text-anchor="end" textLength="12.6" lengthAdjust="spacingAndGlyphs">100</text>
<text x="30.9" y="470.7" font-size="8.4" text-anchor="end" textLength="4.2" lengthAdjust="spacingAndGlyphs">0</text>
<text x="14" y="422.55" font-size="9" text-anchor="middle" textLength="24.8" lengthAdjust="spacingAndGlyphs" transform="rotate(-90 14 422.55)" stroke="#111" stroke-width="0.15">Counts</text>
<text x="81.3" y="370.9" font-size="9.9" text-anchor="middle" textLength="17.06" lengthAdjust="spacingAndGlyphs">D14</text>
<line x1="44" y1="485" x2="113.5" y2="485" stroke="#000" stroke-width="1.3"/>
<path d="M112.2 481.7L118.6 485L112.2 488.3Z" fill="#000"/>
<text x="81.4" y="496.2" font-size="9.4" text-anchor="middle" textLength="33.6" lengthAdjust="spacingAndGlyphs">anti-IgG</text>
</g>
<g id="panelD">
<rect x="174.4" y="299.57" width="10.6" height="1.23" fill="#c8102e"/>
<rect x="190.3" y="298.95" width="10.6" height="1.85" fill="#14568f"/>
<rect x="206.2" y="298.8" width="10.6" height="2" fill="#3ab54a"/>
<rect x="222.1" y="299.57" width="10.6" height="1.23" fill="#7b2d8b"/>
<rect x="238" y="298.34" width="10.6" height="2.46" fill="#ff8f00"/>
<line x1="179.7" y1="298.95" x2="179.7" y2="300.18" stroke="#000" stroke-width="1.15"/>
<line x1="176.3" y1="298.95" x2="183.1" y2="298.95" stroke="#000" stroke-width="1.3"/>
<line x1="176.3" y1="300.18" x2="183.1" y2="300.18" stroke="#000" stroke-width="1.3"/>
<line x1="195.6" y1="297.87" x2="195.6" y2="299.88" stroke="#000" stroke-width="1.15"/>
<line x1="192.2" y1="297.87" x2="199" y2="297.87" stroke="#000" stroke-width="1.3"/>
<line x1="192.2" y1="299.88" x2="199" y2="299.88" stroke="#000" stroke-width="1.3"/>
<line x1="211.5" y1="297.72" x2="211.5" y2="299.88" stroke="#000" stroke-width="1.15"/>
<line x1="208.1" y1="297.72" x2="214.9" y2="297.72" stroke="#000" stroke-width="1.3"/>
<line x1="208.1" y1="299.88" x2="214.9" y2="299.88" stroke="#000" stroke-width="1.3"/>
<line x1="227.4" y1="298.8" x2="227.4" y2="300.34" stroke="#000" stroke-width="1.15"/>
<line x1="224" y1="298.8" x2="230.8" y2="298.8" stroke="#000" stroke-width="1.3"/>
<line x1="243.3" y1="297.1" x2="243.3" y2="299.41" stroke="#000" stroke-width="1.15"/>
<line x1="239.9" y1="297.1" x2="246.7" y2="297.1" stroke="#000" stroke-width="1.3"/>
<line x1="239.9" y1="299.41" x2="246.7" y2="299.41" stroke="#000" stroke-width="1.3"/>
<g fill="#000">
<circle cx="179.7" cy="300.18" r="1.8"/>
<circle cx="183.5" cy="300.03" r="1.8"/>
<circle cx="175.9" cy="299.88" r="1.8"/>
<circle cx="183.2" cy="299.72" r="1.8"/>
<circle cx="179.7" cy="299.57" r="1.8"/>
<circle cx="176.2" cy="299.41" r="1.8"/>
<circle cx="177.9" cy="299.26" r="1.8"/>
<circle cx="176.2" cy="298.95" r="1.8"/>
<rect x="193.94" y="298.37" width="3.31" height="3.31"/>
<rect x="197.74" y="297.91" width="3.31" height="3.31"/>
<rect x="190.14" y="297.76" width="3.31" height="3.31"/>
<rect x="195.74" y="297.45" width="3.31" height="3.31"/>
<rect x="195.74" y="297.3" width="3.31" height="3.31"/>
<rect x="195.74" y="296.99" width="3.31" height="3.31"/>
<rect x="195.74" y="296.68" width="3.31" height="3.31"/>
<rect x="197.44" y="296.37" width="3.31" height="3.31"/>
<rect x="190.44" y="296.06" width="3.31" height="3.31"/>
<path d="M211.5 297.81L213.57 301.53L209.43 301.53Z"/>
<path d="M215.3 297.5L217.37 301.22L213.23 301.22Z"/>
<path d="M207.7 297.34L209.77 301.07L205.63 301.07Z"/>
<path d="M213.3 296.88L215.37 300.61L211.23 300.61Z"/>
<path d="M208 296.42L210.07 300.15L205.93 300.15Z"/>
<path d="M213.3 296.11L215.37 299.84L211.23 299.84Z"/>
<path d="M213.3 295.34L215.37 299.07L211.23 299.07Z"/>
<path d="M227.4 302.25L229.47 298.53L225.33 298.53Z"/>
<path d="M231.2 302.1L233.27 298.37L229.13 298.37Z"/>
<path d="M223.6 301.79L225.67 298.07L221.53 298.07Z"/>
<path d="M227.4 301.48L229.47 297.76L225.33 297.76Z"/>
<path d="M223.9 301.02L225.97 297.3L221.83 297.3Z"/>
<path d="M229.2 300.41L231.27 296.68L227.13 296.68Z"/>
<rect x="241.64" y="297.91" width="3.31" height="3.31"/>
<rect x="245.44" y="297.6" width="3.31" height="3.31"/>
<rect x="237.84" y="297.3" width="3.31" height="3.31"/>
<rect x="239.84" y="296.99" width="3.31" height="3.31"/>
<rect x="245.14" y="296.53" width="3.31" height="3.31"/>
<rect x="241.64" y="296.06" width="3.31" height="3.31"/>
<rect x="238.14" y="295.76" width="3.31" height="3.31"/>
<rect x="239.84" y="295.14" width="3.31" height="3.31"/>
</g>
<path d="M168.9 207.75V300.8H253.7" fill="none" stroke="#000" stroke-width="1.6"/>
<line x1="165.3" y1="208.4" x2="168.9" y2="208.4" stroke="#000" stroke-width="1.2"/>
<text x="162.4" y="211.9" font-size="8.4" text-anchor="end" textLength="8.54" lengthAdjust="spacingAndGlyphs">60</text>
<line x1="165.3" y1="239.2" x2="168.9" y2="239.2" stroke="#000" stroke-width="1.2"/>
<text x="162.4" y="242.7" font-size="8.4" text-anchor="end" textLength="8.54" lengthAdjust="spacingAndGlyphs">40</text>
<line x1="165.3" y1="270" x2="168.9" y2="270" stroke="#000" stroke-width="1.2"/>
<text x="162.4" y="273.5" font-size="8.4" text-anchor="end" textLength="8.54" lengthAdjust="spacingAndGlyphs">20</text>
<line x1="165.3" y1="300.8" x2="168.9" y2="300.8" stroke="#000" stroke-width="1.2"/>
<text x="162.4" y="304.3" font-size="8.4" text-anchor="end" textLength="4.27" lengthAdjust="spacingAndGlyphs">0</text>
<line x1="179.7" y1="300.8" x2="179.7" y2="304.4" stroke="#000" stroke-width="1.2"/>
<line x1="195.6" y1="300.8" x2="195.6" y2="304.4" stroke="#000" stroke-width="1.2"/>
<line x1="211.5" y1="300.8" x2="211.5" y2="304.4" stroke="#000" stroke-width="1.2"/>
<line x1="227.4" y1="300.8" x2="227.4" y2="304.4" stroke="#000" stroke-width="1.2"/>
<line x1="243.3" y1="300.8" x2="243.3" y2="304.4" stroke="#000" stroke-width="1.2"/>
<text x="183.1" y="310.6" font-size="8.5" text-anchor="end" textLength="9.79" lengthAdjust="spacingAndGlyphs" transform="rotate(-45 183.1 310.6)" stroke="#111" stroke-width="0.2">B6</text>
<text x="199" y="310.6" font-size="8.5" text-anchor="end" textLength="34.21" lengthAdjust="spacingAndGlyphs" transform="rotate(-45 199 310.6)" stroke="#111" stroke-width="0.2">FO B dep</text>
<text x="214.9" y="310.6" font-size="8.5" text-anchor="end" textLength="31.52" lengthAdjust="spacingAndGlyphs" transform="rotate(-45 214.9 310.6)" stroke="#111" stroke-width="0.2">FO B ctrl</text>
<text x="230.8" y="310.6" font-size="8.5" text-anchor="end" textLength="39.98" lengthAdjust="spacingAndGlyphs" transform="rotate(-45 230.8 310.6)" stroke="#111" stroke-width="0.2">Total B dep</text>
<text x="246.7" y="310.6" font-size="8.5" text-anchor="end" textLength="37.31" lengthAdjust="spacingAndGlyphs" transform="rotate(-45 246.7 310.6)" stroke="#111" stroke-width="0.2">Total B ctrl</text>
<path d="M172.8 195.2V192.7H245.9V195.2" fill="none" stroke="#000" stroke-width="1.35"/>
<text x="210" y="191.1" font-size="5.5" text-anchor="middle" font-style="italic">ns</text>
<path d="M172.8 201.8V199.3H230.9V201.8" fill="none" stroke="#000" stroke-width="1.35"/>
<text x="202" y="197.7" font-size="5.5" text-anchor="middle" font-style="italic">ns</text>
<path d="M172.8 208.25V205.75H216.5V208.25" fill="none" stroke="#000" stroke-width="1.35"/>
<text x="194.5" y="204.15" font-size="5.5" text-anchor="middle" font-style="italic">ns</text>
<path d="M172.8 214.6V212.1H200.5V214.6" fill="none" stroke="#000" stroke-width="1.35"/>
<text x="187" y="210.5" font-size="5.5" text-anchor="middle" font-style="italic">ns</text>
<text x="210" y="182.7" font-size="9.9" text-anchor="middle" textLength="12.06" lengthAdjust="spacingAndGlyphs">D3</text>
<text x="144.4" y="254.6" font-size="9.3" text-anchor="middle" textLength="59.7" lengthAdjust="spacingAndGlyphs" transform="rotate(-90 144.4 254.6)" stroke="#111" stroke-width="0.15">Anti-HOD IgM MFI</text>
<rect x="303.9" y="274.62" width="10.6" height="26.18" fill="#c8102e"/>
<rect x="319.9" y="286.48" width="10.6" height="14.32" fill="#14568f"/>
<rect x="335.9" y="277.39" width="10.6" height="23.41" fill="#3ab54a"/>
<rect x="351.9" y="300.18" width="10.6" height="0.62" fill="#7b2d8b"/>
<rect x="367.9" y="265.84" width="10.6" height="34.96" fill="#ff8f00"/>
<line x1="309.2" y1="269.08" x2="309.2" y2="280.16" stroke="#000" stroke-width="1.15"/>
<line x1="305.8" y1="269.08" x2="312.6" y2="269.08" stroke="#000" stroke-width="1.3"/>
<line x1="305.8" y1="280.16" x2="312.6" y2="280.16" stroke="#000" stroke-width="1.3"/>
<line x1="325.2" y1="282.63" x2="325.2" y2="290.33" stroke="#000" stroke-width="1.15"/>
<line x1="321.8" y1="282.63" x2="328.6" y2="282.63" stroke="#000" stroke-width="1.3"/>
<line x1="321.8" y1="290.33" x2="328.6" y2="290.33" stroke="#000" stroke-width="1.3"/>
<line x1="341.2" y1="272.77" x2="341.2" y2="282.01" stroke="#000" stroke-width="1.15"/>
<line x1="337.8" y1="272.77" x2="344.6" y2="272.77" stroke="#000" stroke-width="1.3"/>
<line x1="337.8" y1="282.01" x2="344.6" y2="282.01" stroke="#000" stroke-width="1.3"/>
<line x1="373.2" y1="256.76" x2="373.2" y2="275.24" stroke="#000" stroke-width="1.15"/>
<line x1="369.8" y1="256.76" x2="376.6" y2="256.76" stroke="#000" stroke-width="1.3"/>
<line x1="369.8" y1="275.24" x2="376.6" y2="275.24" stroke="#000" stroke-width="1.3"/>
<g fill="#000">
<circle cx="309.2" cy="264.9" r="1.8"/>
<circle cx="306.3" cy="270.3" r="1.8"/>
<circle cx="312.1" cy="270.3" r="1.8"/>
<circle cx="309.2" cy="272" r="1.8"/>
<circle cx="307.2" cy="277" r="1.8"/>
<circle cx="311" cy="277.6" r="1.8"/>
<circle cx="309.2" cy="279.3" r="1.8"/>
<circle cx="312.2" cy="274.5" r="1.8"/>
<circle cx="306.2" cy="275" r="1.8"/>
<circle cx="309.2" cy="287.2" r="1.8"/>
<rect x="321.94" y="276.54" width="3.31" height="3.31"/>
<rect x="324.74" y="280.14" width="3.31" height="3.31"/>
<rect x="320.54" y="283.94" width="3.31" height="3.31"/>
<rect x="323.54" y="283.34" width="3.31" height="3.31"/>
<rect x="326.54" y="284.34" width="3.31" height="3.31"/>
<rect x="321.74" y="286.34" width="3.31" height="3.31"/>
<rect x="325.34" y="286.74" width="3.31" height="3.31"/>
<rect x="320.14" y="288.94" width="3.31" height="3.31"/>
<rect x="323.54" y="289.34" width="3.31" height="3.31"/>
<rect x="326.94" y="289.14" width="3.31" height="3.31"/>
<rect x="323.54" y="291.74" width="3.31" height="3.31"/>
<circle cx="341.2" cy="270.3" r="1.8"/>
<circle cx="338.3" cy="277.7" r="1.8"/>
<circle cx="344.1" cy="277.7" r="1.8"/>
<circle cx="341.2" cy="276" r="1.8"/>
<circle cx="341.2" cy="280" r="1.8"/>
<circle cx="339.4" cy="279" r="1.8"/>
<circle cx="343" cy="279.4" r="1.8"/>
<circle cx="344.6" cy="281" r="1.8"/>
<circle cx="337.8" cy="281" r="1.8"/>
<circle cx="341.2" cy="289.1" r="1.8"/>
<circle cx="353.2" cy="300.4" r="1.8"/>
<circle cx="355.2" cy="300.2" r="1.8"/>
<circle cx="357.2" cy="300.3" r="1.8"/>
<circle cx="359.2" cy="300.2" r="1.8"/>
<circle cx="361.2" cy="300.4" r="1.8"/>
<rect x="371.54" y="249.04" width="3.31" height="3.31"/>
<rect x="371.54" y="254.74" width="3.31" height="3.31"/>
<rect x="370.34" y="257.24" width="3.31" height="3.31"/>
<rect x="374.54" y="256.74" width="3.31" height="3.31"/>
<rect x="371.54" y="264.54" width="3.31" height="3.31"/>
<rect x="372.34" y="268.64" width="3.31" height="3.31"/>
<rect x="371.54" y="272.74" width="3.31" height="3.31"/>
<rect x="373.74" y="276.04" width="3.31" height="3.31"/>
<rect x="369.14" y="278.94" width="3.31" height="3.31"/>
<rect x="372.54" y="277.94" width="3.31" height="3.31"/>
</g>
<path d="M298.4 207.75V300.8H383.4" fill="none" stroke="#000" stroke-width="1.6"/>
<line x1="294.8" y1="208.4" x2="298.4" y2="208.4" stroke="#000" stroke-width="1.2"/>
<text x="292.4" y="211.9" font-size="8.4" text-anchor="end" textLength="8.54" lengthAdjust="spacingAndGlyphs">60</text>
<line x1="294.8" y1="239.2" x2="298.4" y2="239.2" stroke="#000" stroke-width="1.2"/>
<text x="292.4" y="242.7" font-size="8.4" text-anchor="end" textLength="8.54" lengthAdjust="spacingAndGlyphs">40</text>
<line x1="294.8" y1="270" x2="298.4" y2="270" stroke="#000" stroke-width="1.2"/>
<text x="292.4" y="273.5" font-size="8.4" text-anchor="end" textLength="8.54" lengthAdjust="spacingAndGlyphs">20</text>
<line x1="294.8" y1="300.8" x2="298.4" y2="300.8" stroke="#000" stroke-width="1.2"/>
<text x="292.4" y="304.3" font-size="8.4" text-anchor="end" textLength="4.27" lengthAdjust="spacingAndGlyphs">0</text>
<line x1="309.2" y1="300.8" x2="309.2" y2="304.4" stroke="#000" stroke-width="1.2"/>
<line x1="325.2" y1="300.8" x2="325.2" y2="304.4" stroke="#000" stroke-width="1.2"/>
<line x1="341.2" y1="300.8" x2="341.2" y2="304.4" stroke="#000" stroke-width="1.2"/>
<line x1="357.2" y1="300.8" x2="357.2" y2="304.4" stroke="#000" stroke-width="1.2"/>
<line x1="373.2" y1="300.8" x2="373.2" y2="304.4" stroke="#000" stroke-width="1.2"/>
<text x="312.6" y="310.6" font-size="8.5" text-anchor="end" textLength="9.79" lengthAdjust="spacingAndGlyphs" transform="rotate(-45 312.6 310.6)" stroke="#111" stroke-width="0.2">B6</text>
<text x="328.6" y="310.6" font-size="8.5" text-anchor="end" textLength="34.21" lengthAdjust="spacingAndGlyphs" transform="rotate(-45 328.6 310.6)" stroke="#111" stroke-width="0.2">FO B dep</text>
<text x="344.6" y="310.6" font-size="8.5" text-anchor="end" textLength="31.52" lengthAdjust="spacingAndGlyphs" transform="rotate(-45 344.6 310.6)" stroke="#111" stroke-width="0.2">FO B ctrl</text>
<text x="360.6" y="310.6" font-size="8.5" text-anchor="end" textLength="39.98" lengthAdjust="spacingAndGlyphs" transform="rotate(-45 360.6 310.6)" stroke="#111" stroke-width="0.2">Total B dep</text>
<text x="376.6" y="310.6" font-size="8.5" text-anchor="end" textLength="37.31" lengthAdjust="spacingAndGlyphs" transform="rotate(-45 376.6 310.6)" stroke="#111" stroke-width="0.2">Total B ctrl</text>
<path d="M303.4 195.2V192.7H376.4V195.2" fill="none" stroke="#000" stroke-width="1.35"/>
<text x="339.6" y="193.6" font-size="5.7" text-anchor="middle" textLength="2.5" lengthAdjust="spacingAndGlyphs" stroke="#111" stroke-width="0.15">*</text>
<path d="M303.4 201.8V199.3H361.4V201.8" fill="none" stroke="#000" stroke-width="1.35"/>
<text x="332.4" y="200.2" font-size="5.7" text-anchor="middle" textLength="10" lengthAdjust="spacingAndGlyphs" stroke="#111" stroke-width="0.15">****</text>
<path d="M303.4 208.25V205.75H347V208.25" fill="none" stroke="#000" stroke-width="1.35"/>
<text x="324.5" y="204.15" font-size="5.5" text-anchor="middle" font-style="italic">ns</text>
<path d="M303.4 214.6V212.1H331.3V214.6" fill="none" stroke="#000" stroke-width="1.35"/>
<text x="317" y="213" font-size="5.7" text-anchor="middle" textLength="7.5" lengthAdjust="spacingAndGlyphs" stroke="#111" stroke-width="0.15">***</text>
<text x="340" y="182.7" font-size="9.9" text-anchor="middle" textLength="12.06" lengthAdjust="spacingAndGlyphs">D5</text>
<text x="274.8" y="254.6" font-size="9.3" text-anchor="middle" textLength="59.7" lengthAdjust="spacingAndGlyphs" transform="rotate(-90 274.8 254.6)" stroke="#111" stroke-width="0.15">Anti-HOD IgM MFI</text>
<rect x="431.8" y="250.44" width="10.6" height="50.36" fill="#c8102e"/>
<rect x="447.7" y="261.99" width="10.6" height="38.81" fill="#14568f"/>
<rect x="463.6" y="250.44" width="10.6" height="50.36" fill="#3ab54a"/>
<rect x="479.5" y="299.57" width="10.6" height="1.23" fill="#7b2d8b"/>
<rect x="495.4" y="249.06" width="10.6" height="51.74" fill="#ff8f00"/>
<line x1="437.1" y1="243.51" x2="437.1" y2="257.68" stroke="#000" stroke-width="1.15"/>
<line x1="433.7" y1="243.51" x2="440.5" y2="243.51" stroke="#000" stroke-width="1.3"/>
<line x1="433.7" y1="257.68" x2="440.5" y2="257.68" stroke="#000" stroke-width="1.3"/>
<line x1="453" y1="240.43" x2="453" y2="283.86" stroke="#000" stroke-width="1.15"/>
<line x1="449.6" y1="240.43" x2="456.4" y2="240.43" stroke="#000" stroke-width="1.3"/>
<line x1="449.6" y1="283.86" x2="456.4" y2="283.86" stroke="#000" stroke-width="1.3"/>
<line x1="468.9" y1="238.58" x2="468.9" y2="263.53" stroke="#000" stroke-width="1.15"/>
<line x1="465.5" y1="238.58" x2="472.3" y2="238.58" stroke="#000" stroke-width="1.3"/>
<line x1="465.5" y1="263.53" x2="472.3" y2="263.53" stroke="#000" stroke-width="1.3"/>
<line x1="484.8" y1="297.41" x2="484.8" y2="300.8" stroke="#000" stroke-width="1.15"/>
<line x1="481.4" y1="297.41" x2="488.2" y2="297.41" stroke="#000" stroke-width="1.3"/>
<line x1="500.7" y1="244.44" x2="500.7" y2="253.37" stroke="#000" stroke-width="1.15"/>
<line x1="497.3" y1="244.44" x2="504.1" y2="244.44" stroke="#000" stroke-width="1.3"/>
<line x1="497.3" y1="253.37" x2="504.1" y2="253.37" stroke="#000" stroke-width="1.3"/>
<g fill="#000">
<circle cx="435.3" cy="238.9" r="1.8"/>
<circle cx="438.9" cy="238.9" r="1.8"/>
<circle cx="433.6" cy="246.2" r="1.8"/>
<circle cx="440.4" cy="244.4" r="1.8"/>
<circle cx="437.1" cy="245" r="1.8"/>
<circle cx="433.6" cy="255.9" r="1.8"/>
<circle cx="440.4" cy="257.4" r="1.8"/>
<circle cx="437.1" cy="260.3" r="1.8"/>
<circle cx="437.1" cy="265.4" r="1.8"/>
<rect x="451.34" y="211.84" width="3.31" height="3.31"/>
<rect x="451.34" y="244.94" width="3.31" height="3.31"/>
<rect x="454.84" y="251.04" width="3.31" height="3.31"/>
<rect x="447.84" y="254.24" width="3.31" height="3.31"/>
<rect x="454.84" y="256.64" width="3.31" height="3.31"/>
<rect x="451.34" y="262.84" width="3.31" height="3.31"/>
<rect x="451.34" y="269.84" width="3.31" height="3.31"/>
<rect x="451.34" y="274.54" width="3.31" height="3.31"/>
<rect x="451.34" y="280.84" width="3.31" height="3.31"/>
<rect x="451.34" y="291.04" width="3.31" height="3.31"/>
<circle cx="468.9" cy="227.6" r="1.8"/>
<circle cx="465.4" cy="242.9" r="1.8"/>
<circle cx="468.9" cy="245.3" r="1.8"/>
<circle cx="472.4" cy="246.8" r="1.8"/>
<circle cx="465.4" cy="253" r="1.8"/>
<circle cx="472.4" cy="254.4" r="1.8"/>
<circle cx="468.9" cy="250" r="1.8"/>
<circle cx="468.9" cy="263.5" r="1.8"/>
<circle cx="468.9" cy="271" r="1.8"/>
<circle cx="484.8" cy="295.2" r="1.8"/>
<circle cx="482.3" cy="299.5" r="1.8"/>
<circle cx="484.8" cy="299.7" r="1.8"/>
<circle cx="487.3" cy="299.5" r="1.8"/>
<circle cx="480.2" cy="300" r="1.8"/>
<circle cx="489.4" cy="300" r="1.8"/>
<rect x="499.04" y="252.94" width="3.31" height="3.31"/>
<rect x="502.84" y="252.02" width="3.31" height="3.31"/>
<rect x="495.24" y="250.48" width="3.31" height="3.31"/>
<rect x="499.04" y="248.94" width="3.31" height="3.31"/>
<rect x="502.84" y="247.4" width="3.31" height="3.31"/>
<rect x="495.24" y="246.17" width="3.31" height="3.31"/>
<rect x="499.04" y="245.24" width="3.31" height="3.31"/>
<rect x="502.84" y="243.7" width="3.31" height="3.31"/>
<rect x="495.24" y="242.16" width="3.31" height="3.31"/>
<rect x="499.04" y="240.62" width="3.31" height="3.31"/>
</g>
<path d="M426.1 207.75V300.8H511.2" fill="none" stroke="#000" stroke-width="1.6"/>
<line x1="422.5" y1="208.4" x2="426.1" y2="208.4" stroke="#000" stroke-width="1.2"/>
<text x="421.3" y="211.9" font-size="8.4" text-anchor="end" textLength="8.54" lengthAdjust="spacingAndGlyphs">60</text>
<line x1="422.5" y1="239.2" x2="426.1" y2="239.2" stroke="#000" stroke-width="1.2"/>
<text x="421.3" y="242.7" font-size="8.4" text-anchor="end" textLength="8.54" lengthAdjust="spacingAndGlyphs">40</text>
<line x1="422.5" y1="270" x2="426.1" y2="270" stroke="#000" stroke-width="1.2"/>
<text x="421.3" y="273.5" font-size="8.4" text-anchor="end" textLength="8.54" lengthAdjust="spacingAndGlyphs">20</text>
<line x1="422.5" y1="300.8" x2="426.1" y2="300.8" stroke="#000" stroke-width="1.2"/>
<text x="421.3" y="304.3" font-size="8.4" text-anchor="end" textLength="4.27" lengthAdjust="spacingAndGlyphs">0</text>
<line x1="437.1" y1="300.8" x2="437.1" y2="304.4" stroke="#000" stroke-width="1.2"/>
<line x1="453" y1="300.8" x2="453" y2="304.4" stroke="#000" stroke-width="1.2"/>
<line x1="468.9" y1="300.8" x2="468.9" y2="304.4" stroke="#000" stroke-width="1.2"/>
<line x1="484.8" y1="300.8" x2="484.8" y2="304.4" stroke="#000" stroke-width="1.2"/>
<line x1="500.7" y1="300.8" x2="500.7" y2="304.4" stroke="#000" stroke-width="1.2"/>
<text x="440.5" y="310.6" font-size="8.5" text-anchor="end" textLength="9.79" lengthAdjust="spacingAndGlyphs" transform="rotate(-45 440.5 310.6)" stroke="#111" stroke-width="0.2">B6</text>
<text x="456.4" y="310.6" font-size="8.5" text-anchor="end" textLength="34.21" lengthAdjust="spacingAndGlyphs" transform="rotate(-45 456.4 310.6)" stroke="#111" stroke-width="0.2">FO B dep</text>
<text x="472.3" y="310.6" font-size="8.5" text-anchor="end" textLength="31.52" lengthAdjust="spacingAndGlyphs" transform="rotate(-45 472.3 310.6)" stroke="#111" stroke-width="0.2">FO B ctrl</text>
<text x="488.2" y="310.6" font-size="8.5" text-anchor="end" textLength="39.98" lengthAdjust="spacingAndGlyphs" transform="rotate(-45 488.2 310.6)" stroke="#111" stroke-width="0.2">Total B dep</text>
<text x="504.1" y="310.6" font-size="8.5" text-anchor="end" textLength="37.31" lengthAdjust="spacingAndGlyphs" transform="rotate(-45 504.1 310.6)" stroke="#111" stroke-width="0.2">Total B ctrl</text>
<path d="M429.8 195.2V192.7H503.2V195.2" fill="none" stroke="#000" stroke-width="1.35"/>
<text x="466.6" y="191.1" font-size="5.5" text-anchor="middle" font-style="italic">ns</text>
<path d="M429.8 201.8V199.3H488V201.8" fill="none" stroke="#000" stroke-width="1.35"/>
<text x="458.8" y="200.2" font-size="5.7" text-anchor="middle" textLength="7.5" lengthAdjust="spacingAndGlyphs" stroke="#111" stroke-width="0.15">***</text>
<path d="M429.8 208.25V205.75H473.6V208.25" fill="none" stroke="#000" stroke-width="1.35"/>
<text x="451.5" y="204.15" font-size="5.5" text-anchor="middle" font-style="italic">ns</text>
<path d="M429.8 214.6V212.1H458V214.6" fill="none" stroke="#000" stroke-width="1.35"/>
<text x="443.8" y="210.5" font-size="5.5" text-anchor="middle" font-style="italic">ns</text>
<text x="466.2" y="182.7" font-size="9.9" text-anchor="middle" textLength="12.06" lengthAdjust="spacingAndGlyphs">D7</text>
<text x="403.3" y="254.6" font-size="9.3" text-anchor="middle" textLength="59.7" lengthAdjust="spacingAndGlyphs" transform="rotate(-90 403.3 254.6)" stroke="#111" stroke-width="0.15">Anti-HOD IgM MFI</text>
</g>
<g id="panelF">
<rect x="174.4" y="458.11" width="10.6" height="9.19" fill="#c8102e"/>
<rect x="190.3" y="463.93" width="10.6" height="3.37" fill="#14568f"/>
<rect x="206.2" y="458.11" width="10.6" height="9.19" fill="#3ab54a"/>
<rect x="222.1" y="466.69" width="10.6" height="0.61" fill="#7b2d8b"/>
<rect x="238" y="457.5" width="10.6" height="9.8" fill="#ff8f00"/>
<line x1="179.7" y1="452.6" x2="179.7" y2="463.62" stroke="#000" stroke-width="1.15"/>
<line x1="176.3" y1="452.6" x2="183.1" y2="452.6" stroke="#000" stroke-width="1.3"/>
<line x1="176.3" y1="463.62" x2="183.1" y2="463.62" stroke="#000" stroke-width="1.3"/>
<line x1="195.6" y1="457.19" x2="195.6" y2="467.3" stroke="#000" stroke-width="1.15"/>
<line x1="192.2" y1="457.19" x2="199" y2="457.19" stroke="#000" stroke-width="1.3"/>
<line x1="211.5" y1="450.15" x2="211.5" y2="465.77" stroke="#000" stroke-width="1.15"/>
<line x1="208.1" y1="450.15" x2="214.9" y2="450.15" stroke="#000" stroke-width="1.3"/>
<line x1="208.1" y1="465.77" x2="214.9" y2="465.77" stroke="#000" stroke-width="1.3"/>
<line x1="243.3" y1="449.53" x2="243.3" y2="464.85" stroke="#000" stroke-width="1.15"/>
<line x1="239.9" y1="449.53" x2="246.7" y2="449.53" stroke="#000" stroke-width="1.3"/>
<line x1="239.9" y1="464.85" x2="246.7" y2="464.85" stroke="#000" stroke-width="1.3"/>
<g fill="#000">
<circle cx="179.7" cy="465.77" r="1.8"/>
<circle cx="183.5" cy="464.85" r="1.8"/>
<circle cx="175.9" cy="463.62" r="1.8"/>
<circle cx="179.7" cy="461.79" r="1.8"/>
<circle cx="175.9" cy="459.95" r="1.8"/>
<circle cx="183.5" cy="458.72" r="1.8"/>
<circle cx="179.7" cy="457.5" r="1.8"/>
<circle cx="175.9" cy="456.27" r="1.8"/>
<circle cx="183.5" cy="455.05" r="1.8"/>
<circle cx="179.7" cy="453.51" r="1.8"/>
<circle cx="179.7" cy="447.39" r="1.8"/>
<rect x="193.94" y="465.03" width="3.31" height="3.31"/>
<rect x="197.74" y="464.73" width="3.31" height="3.31"/>
<rect x="190.14" y="464.42" width="3.31" height="3.31"/>
<rect x="197.44" y="464.11" width="3.31" height="3.31"/>
<rect x="192.14" y="463.5" width="3.31" height="3.31"/>
<rect x="190.44" y="462.89" width="3.31" height="3.31"/>
<rect x="195.74" y="461.97" width="3.31" height="3.31"/>
<rect x="195.74" y="461.05" width="3.31" height="3.31"/>
<rect x="192.04" y="459.52" width="3.31" height="3.31"/>
<rect x="193.94" y="442.36" width="3.31" height="3.31"/>
<circle cx="211.5" cy="466.38" r="1.8"/>
<circle cx="215.3" cy="466.07" r="1.8"/>
<circle cx="207.7" cy="465.46" r="1.8"/>
<circle cx="215" cy="464.24" r="1.8"/>
<circle cx="211.5" cy="462.4" r="1.8"/>
<circle cx="215.3" cy="459.95" r="1.8"/>
<circle cx="211.5" cy="453.21" r="1.8"/>
<circle cx="215.3" cy="451.37" r="1.8"/>
<circle cx="211.5" cy="449.53" r="1.8"/>
<circle cx="215.3" cy="447.08" r="1.8"/>
<circle cx="227.4" cy="466.84" r="1.8"/>
<circle cx="231.2" cy="466.69" r="1.8"/>
<circle cx="223.6" cy="466.53" r="1.8"/>
<circle cx="223.9" cy="466.38" r="1.8"/>
<circle cx="223.9" cy="466.23" r="1.8"/>
<circle cx="223.9" cy="466.07" r="1.8"/>
<rect x="241.64" y="464.73" width="3.31" height="3.31"/>
<rect x="245.44" y="464.11" width="3.31" height="3.31"/>
<rect x="237.84" y="463.19" width="3.31" height="3.31"/>
<rect x="243.44" y="461.97" width="3.31" height="3.31"/>
<rect x="239.74" y="460.13" width="3.31" height="3.31"/>
<rect x="245.44" y="458.29" width="3.31" height="3.31"/>
<rect x="241.64" y="456.45" width="3.31" height="3.31"/>
<rect x="237.84" y="455.23" width="3.31" height="3.31"/>
<rect x="245.44" y="453.39" width="3.31" height="3.31"/>
<rect x="241.64" y="447.88" width="3.31" height="3.31"/>
<rect x="241.64" y="432.56" width="3.31" height="3.31"/>
</g>
<path d="M168.9 374.75V467.3H253.7" fill="none" stroke="#000" stroke-width="1.6"/>
<line x1="165.3" y1="375.4" x2="168.9" y2="375.4" stroke="#000" stroke-width="1.2"/>
<text x="162.4" y="378.9" font-size="8.4" text-anchor="end" textLength="12.81" lengthAdjust="spacingAndGlyphs">300</text>
<line x1="165.3" y1="406.1" x2="168.9" y2="406.1" stroke="#000" stroke-width="1.2"/>
<text x="162.4" y="409.6" font-size="8.4" text-anchor="end" textLength="12.81" lengthAdjust="spacingAndGlyphs">300</text>
<line x1="165.3" y1="436.8" x2="168.9" y2="436.8" stroke="#000" stroke-width="1.2"/>
<text x="162.4" y="440.3" font-size="8.4" text-anchor="end" textLength="12.81" lengthAdjust="spacingAndGlyphs">100</text>
<line x1="165.3" y1="467.3" x2="168.9" y2="467.3" stroke="#000" stroke-width="1.2"/>
<text x="162.4" y="470.8" font-size="8.4" text-anchor="end" textLength="4.27" lengthAdjust="spacingAndGlyphs">0</text>
<line x1="179.7" y1="467.3" x2="179.7" y2="470.9" stroke="#000" stroke-width="1.2"/>
<line x1="195.6" y1="467.3" x2="195.6" y2="470.9" stroke="#000" stroke-width="1.2"/>
<line x1="211.5" y1="467.3" x2="211.5" y2="470.9" stroke="#000" stroke-width="1.2"/>
<line x1="227.4" y1="467.3" x2="227.4" y2="470.9" stroke="#000" stroke-width="1.2"/>
<line x1="243.3" y1="467.3" x2="243.3" y2="470.9" stroke="#000" stroke-width="1.2"/>
<text x="183.1" y="477.1" font-size="8.5" text-anchor="end" textLength="9.79" lengthAdjust="spacingAndGlyphs" transform="rotate(-45 183.1 477.1)" stroke="#111" stroke-width="0.2">B6</text>
<text x="199" y="477.1" font-size="8.5" text-anchor="end" textLength="34.21" lengthAdjust="spacingAndGlyphs" transform="rotate(-45 199 477.1)" stroke="#111" stroke-width="0.2">FO B dep</text>
<text x="214.9" y="477.1" font-size="8.5" text-anchor="end" textLength="31.52" lengthAdjust="spacingAndGlyphs" transform="rotate(-45 214.9 477.1)" stroke="#111" stroke-width="0.2">FO B ctrl</text>
<text x="230.8" y="477.1" font-size="8.5" text-anchor="end" textLength="39.98" lengthAdjust="spacingAndGlyphs" transform="rotate(-45 230.8 477.1)" stroke="#111" stroke-width="0.2">Total B dep</text>
<text x="246.7" y="477.1" font-size="8.5" text-anchor="end" textLength="37.31" lengthAdjust="spacingAndGlyphs" transform="rotate(-45 246.7 477.1)" stroke="#111" stroke-width="0.2">Total B ctrl</text>
<path d="M172.8 369.2V366.7H246.3V369.2" fill="none" stroke="#000" stroke-width="1.35"/>
<text x="210" y="365.1" font-size="5.5" text-anchor="middle" font-style="italic">ns</text>
<path d="M172.8 375.7V373.2H230.6V375.7" fill="none" stroke="#000" stroke-width="1.35"/>
<text x="201.2" y="374.1" font-size="5.7" text-anchor="middle" textLength="5" lengthAdjust="spacingAndGlyphs" stroke="#111" stroke-width="0.15">**</text>
<path d="M172.8 382.3V379.8H216.5V382.3" fill="none" stroke="#000" stroke-width="1.35"/>
<text x="194.5" y="378.2" font-size="5.5" text-anchor="middle" font-style="italic">ns</text>
<path d="M172.8 388.7V386.2H200.5V388.7" fill="none" stroke="#000" stroke-width="1.35"/>
<text x="186.8" y="384.6" font-size="5.5" text-anchor="middle" font-style="italic">ns</text>
<text x="210" y="356" font-size="9.9" text-anchor="middle" textLength="12.06" lengthAdjust="spacingAndGlyphs">D7</text>
<text x="144.4" y="421.35" font-size="9.3" text-anchor="middle" textLength="59" lengthAdjust="spacingAndGlyphs" transform="rotate(-90 144.4 421.35)" stroke="#111" stroke-width="0.15">Anti-HOD IgG MFI</text>
<rect x="303.9" y="440.65" width="10.6" height="26.65" fill="#c8102e"/>
<rect x="319.9" y="453.82" width="10.6" height="13.48" fill="#14568f"/>
<rect x="335.9" y="436.67" width="10.6" height="30.63" fill="#3ab54a"/>
<rect x="351.9" y="465.77" width="10.6" height="1.53" fill="#7b2d8b"/>
<rect x="367.9" y="450.45" width="10.6" height="16.85" fill="#ff8f00"/>
<line x1="309.2" y1="415.84" x2="309.2" y2="467.3" stroke="#000" stroke-width="1.15"/>
<line x1="305.8" y1="415.84" x2="312.6" y2="415.84" stroke="#000" stroke-width="1.3"/>
<line x1="325.2" y1="440.34" x2="325.2" y2="467.3" stroke="#000" stroke-width="1.15"/>
<line x1="321.8" y1="440.34" x2="328.6" y2="440.34" stroke="#000" stroke-width="1.3"/>
<line x1="341.2" y1="412.16" x2="341.2" y2="461.17" stroke="#000" stroke-width="1.15"/>
<line x1="337.8" y1="412.16" x2="344.6" y2="412.16" stroke="#000" stroke-width="1.3"/>
<line x1="337.8" y1="461.17" x2="344.6" y2="461.17" stroke="#000" stroke-width="1.3"/>
<line x1="357.2" y1="463.62" x2="357.2" y2="467.3" stroke="#000" stroke-width="1.15"/>
<line x1="353.8" y1="463.62" x2="360.6" y2="463.62" stroke="#000" stroke-width="1.3"/>
<line x1="373.2" y1="435.75" x2="373.2" y2="465.46" stroke="#000" stroke-width="1.15"/>
<line x1="369.8" y1="435.75" x2="376.6" y2="435.75" stroke="#000" stroke-width="1.3"/>
<line x1="369.8" y1="465.46" x2="376.6" y2="465.46" stroke="#000" stroke-width="1.3"/>
<g fill="#000">
<circle cx="309.2" cy="464.85" r="1.8"/>
<circle cx="313" cy="464.85" r="1.8"/>
<circle cx="305.4" cy="464.85" r="1.8"/>
<circle cx="309.2" cy="456.27" r="1.8"/>
<circle cx="309.2" cy="450.45" r="1.8"/>
<circle cx="313" cy="450.15" r="1.8"/>
<circle cx="309.2" cy="444.63" r="1.8"/>
<circle cx="309.2" cy="434.52" r="1.8"/>
<circle cx="309.2" cy="415.84" r="1.8"/>
<circle cx="309.2" cy="402.05" r="1.8"/>
<circle cx="309.2" cy="389.49" r="1.8"/>
<rect x="323.54" y="464.42" width="3.31" height="3.31"/>
<rect x="327.34" y="463.81" width="3.31" height="3.31"/>
<rect x="319.74" y="463.19" width="3.31" height="3.31"/>
<rect x="323.54" y="462.27" width="3.31" height="3.31"/>
<rect x="323.54" y="457.37" width="3.31" height="3.31"/>
<rect x="327.34" y="454.62" width="3.31" height="3.31"/>
<rect x="323.54" y="446.96" width="3.31" height="3.31"/>
<rect x="323.54" y="435.62" width="3.31" height="3.31"/>
<rect x="323.54" y="431.95" width="3.31" height="3.31"/>
<rect x="323.54" y="424.9" width="3.31" height="3.31"/>
<circle cx="341.2" cy="465.46" r="1.8"/>
<circle cx="345" cy="464.85" r="1.8"/>
<circle cx="337.4" cy="462.09" r="1.8"/>
<circle cx="341.2" cy="460.87" r="1.8"/>
<circle cx="341.2" cy="456.27" r="1.8"/>
<circle cx="341.2" cy="444.63" r="1.8"/>
<circle cx="341.2" cy="436.05" r="1.8"/>
<circle cx="345" cy="435.13" r="1.8"/>
<circle cx="341.2" cy="417.98" r="1.8"/>
<circle cx="341.2" cy="411.24" r="1.8"/>
<circle cx="341.2" cy="406.34" r="1.8"/>
<circle cx="341.2" cy="399.29" r="1.8"/>
<circle cx="357.2" cy="466.99" r="1.8"/>
<circle cx="361" cy="466.69" r="1.8"/>
<circle cx="353.4" cy="466.38" r="1.8"/>
<circle cx="355.4" cy="464.85" r="1.8"/>
<circle cx="357.2" cy="457.8" r="1.8"/>
<rect x="371.54" y="464.42" width="3.31" height="3.31"/>
<rect x="375.34" y="463.81" width="3.31" height="3.31"/>
<rect x="367.74" y="463.19" width="3.31" height="3.31"/>
<rect x="371.54" y="457.37" width="3.31" height="3.31"/>
<rect x="367.74" y="456.45" width="3.31" height="3.31"/>
<rect x="371.54" y="452.78" width="3.31" height="3.31"/>
<rect x="371.54" y="441.14" width="3.31" height="3.31"/>
<rect x="375.34" y="440.22" width="3.31" height="3.31"/>
<rect x="371.54" y="436.54" width="3.31" height="3.31"/>
<rect x="371.54" y="426.74" width="3.31" height="3.31"/>
<rect x="367.74" y="424.9" width="3.31" height="3.31"/>
</g>
<path d="M298.4 374.75V467.3H383.4" fill="none" stroke="#000" stroke-width="1.6"/>
<line x1="294.8" y1="375.4" x2="298.4" y2="375.4" stroke="#000" stroke-width="1.2"/>
<text x="292.4" y="378.9" font-size="8.4" text-anchor="end" textLength="12.81" lengthAdjust="spacingAndGlyphs">300</text>
<line x1="294.8" y1="406.1" x2="298.4" y2="406.1" stroke="#000" stroke-width="1.2"/>
<text x="292.4" y="409.6" font-size="8.4" text-anchor="end" textLength="12.81" lengthAdjust="spacingAndGlyphs">200</text>
<line x1="294.8" y1="436.8" x2="298.4" y2="436.8" stroke="#000" stroke-width="1.2"/>
<text x="292.4" y="440.3" font-size="8.4" text-anchor="end" textLength="12.81" lengthAdjust="spacingAndGlyphs">100</text>
<line x1="294.8" y1="467.3" x2="298.4" y2="467.3" stroke="#000" stroke-width="1.2"/>
<text x="292.4" y="470.8" font-size="8.4" text-anchor="end" textLength="4.27" lengthAdjust="spacingAndGlyphs">0</text>
<line x1="309.2" y1="467.3" x2="309.2" y2="470.9" stroke="#000" stroke-width="1.2"/>
<line x1="325.2" y1="467.3" x2="325.2" y2="470.9" stroke="#000" stroke-width="1.2"/>
<line x1="341.2" y1="467.3" x2="341.2" y2="470.9" stroke="#000" stroke-width="1.2"/>
<line x1="357.2" y1="467.3" x2="357.2" y2="470.9" stroke="#000" stroke-width="1.2"/>
<line x1="373.2" y1="467.3" x2="373.2" y2="470.9" stroke="#000" stroke-width="1.2"/>
<text x="312.6" y="477.1" font-size="8.5" text-anchor="end" textLength="9.79" lengthAdjust="spacingAndGlyphs" transform="rotate(-45 312.6 477.1)" stroke="#111" stroke-width="0.2">B6</text>
<text x="328.6" y="477.1" font-size="8.5" text-anchor="end" textLength="34.21" lengthAdjust="spacingAndGlyphs" transform="rotate(-45 328.6 477.1)" stroke="#111" stroke-width="0.2">FO B dep</text>
<text x="344.6" y="477.1" font-size="8.5" text-anchor="end" textLength="31.52" lengthAdjust="spacingAndGlyphs" transform="rotate(-45 344.6 477.1)" stroke="#111" stroke-width="0.2">FO B ctrl</text>
<text x="360.6" y="477.1" font-size="8.5" text-anchor="end" textLength="39.98" lengthAdjust="spacingAndGlyphs" transform="rotate(-45 360.6 477.1)" stroke="#111" stroke-width="0.2">Total B dep</text>
<text x="376.6" y="477.1" font-size="8.5" text-anchor="end" textLength="37.31" lengthAdjust="spacingAndGlyphs" transform="rotate(-45 376.6 477.1)" stroke="#111" stroke-width="0.2">Total B ctrl</text>
<path d="M303.4 369.2V366.7H376.5V369.2" fill="none" stroke="#000" stroke-width="1.35"/>
<text x="340" y="365.1" font-size="5.5" text-anchor="middle" font-style="italic">ns</text>
<path d="M303.4 375.7V373.2H361.5V375.7" fill="none" stroke="#000" stroke-width="1.35"/>
<text x="332.3" y="374.1" font-size="5.7" text-anchor="middle" textLength="5" lengthAdjust="spacingAndGlyphs" stroke="#111" stroke-width="0.15">**</text>
<path d="M303.4 382.3V379.8H347V382.3" fill="none" stroke="#000" stroke-width="1.35"/>
<text x="325.2" y="378.2" font-size="5.5" text-anchor="middle" font-style="italic">ns</text>
<path d="M303.4 388.7V386.2H331.3V388.7" fill="none" stroke="#000" stroke-width="1.35"/>
<text x="317.5" y="384.6" font-size="5.5" text-anchor="middle" font-style="italic">ns</text>
<text x="340" y="356" font-size="9.9" text-anchor="middle" textLength="17.06" lengthAdjust="spacingAndGlyphs">D14</text>
<text x="274.8" y="421.35" font-size="9.3" text-anchor="middle" textLength="59" lengthAdjust="spacingAndGlyphs" transform="rotate(-90 274.8 421.35)" stroke="#111" stroke-width="0.15">Anti-HOD IgG MFI</text>
<rect x="431.8" y="449.84" width="10.6" height="17.46" fill="#c8102e"/>
<rect x="447.7" y="456.58" width="10.6" height="10.72" fill="#14568f"/>
<rect x="463.6" y="448.61" width="10.6" height="18.69" fill="#3ab54a"/>
<rect x="479.5" y="466.07" width="10.6" height="1.23" fill="#7b2d8b"/>
<rect x="495.4" y="446.47" width="10.6" height="20.83" fill="#ff8f00"/>
<line x1="437.1" y1="433.6" x2="437.1" y2="465.46" stroke="#000" stroke-width="1.15"/>
<line x1="433.7" y1="433.6" x2="440.5" y2="433.6" stroke="#000" stroke-width="1.3"/>
<line x1="433.7" y1="465.46" x2="440.5" y2="465.46" stroke="#000" stroke-width="1.3"/>
<line x1="453" y1="446.47" x2="453" y2="466.07" stroke="#000" stroke-width="1.15"/>
<line x1="449.6" y1="446.47" x2="456.4" y2="446.47" stroke="#000" stroke-width="1.3"/>
<line x1="449.6" y1="466.07" x2="456.4" y2="466.07" stroke="#000" stroke-width="1.3"/>
<line x1="468.9" y1="429.62" x2="468.9" y2="467.3" stroke="#000" stroke-width="1.15"/>
<line x1="465.5" y1="429.62" x2="472.3" y2="429.62" stroke="#000" stroke-width="1.3"/>
<line x1="484.8" y1="463.62" x2="484.8" y2="467.3" stroke="#000" stroke-width="1.15"/>
<line x1="481.4" y1="463.62" x2="488.2" y2="463.62" stroke="#000" stroke-width="1.3"/>
<line x1="500.7" y1="428.4" x2="500.7" y2="465.46" stroke="#000" stroke-width="1.15"/>
<line x1="497.3" y1="428.4" x2="504.1" y2="428.4" stroke="#000" stroke-width="1.3"/>
<line x1="497.3" y1="465.46" x2="504.1" y2="465.46" stroke="#000" stroke-width="1.3"/>
<g fill="#000">
<circle cx="437.1" cy="466.07" r="1.8"/>
<circle cx="440.9" cy="465.46" r="1.8"/>
<circle cx="433.3" cy="464.85" r="1.8"/>
<circle cx="437.1" cy="459.95" r="1.8"/>
<circle cx="433.3" cy="458.11" r="1.8"/>
<circle cx="437.1" cy="454.43" r="1.8"/>
<circle cx="433.3" cy="452.29" r="1.8"/>
<circle cx="437.1" cy="442.49" r="1.8"/>
<circle cx="437.1" cy="431.77" r="1.8"/>
<circle cx="437.1" cy="426.56" r="1.8"/>
<circle cx="437.1" cy="417.37" r="1.8"/>
<rect x="451.34" y="464.73" width="3.31" height="3.31"/>
<rect x="455.14" y="464.42" width="3.31" height="3.31"/>
<rect x="447.54" y="463.81" width="3.31" height="3.31"/>
<rect x="451.34" y="463.19" width="3.31" height="3.31"/>
<rect x="451.34" y="458.29" width="3.31" height="3.31"/>
<rect x="455.14" y="456.45" width="3.31" height="3.31"/>
<rect x="451.34" y="446.96" width="3.31" height="3.31"/>
<rect x="455.14" y="444.81" width="3.31" height="3.31"/>
<rect x="451.34" y="442.98" width="3.31" height="3.31"/>
<rect x="451.34" y="427.35" width="3.31" height="3.31"/>
<circle cx="468.9" cy="466.07" r="1.8"/>
<circle cx="472.7" cy="465.46" r="1.8"/>
<circle cx="465.1" cy="463.93" r="1.8"/>
<circle cx="468.9" cy="459.95" r="1.8"/>
<circle cx="468.9" cy="455.35" r="1.8"/>
<circle cx="468.9" cy="442.79" r="1.8"/>
<circle cx="468.9" cy="438.5" r="1.8"/>
<circle cx="468.9" cy="432.99" r="1.8"/>
<circle cx="468.9" cy="422.27" r="1.8"/>
<circle cx="468.9" cy="410.02" r="1.8"/>
<circle cx="484.8" cy="466.99" r="1.8"/>
<circle cx="488.6" cy="466.69" r="1.8"/>
<circle cx="481" cy="466.38" r="1.8"/>
<circle cx="481.3" cy="464.85" r="1.8"/>
<circle cx="484.8" cy="459.03" r="1.8"/>
<rect x="499.04" y="463.81" width="3.31" height="3.31"/>
<rect x="502.84" y="463.19" width="3.31" height="3.31"/>
<rect x="499.04" y="456.45" width="3.31" height="3.31"/>
<rect x="499.04" y="452.78" width="3.31" height="3.31"/>
<rect x="495.24" y="450.63" width="3.31" height="3.31"/>
<rect x="499.04" y="446.96" width="3.31" height="3.31"/>
<rect x="499.04" y="441.75" width="3.31" height="3.31"/>
<rect x="502.84" y="438.99" width="3.31" height="3.31"/>
<rect x="499.04" y="432.56" width="3.31" height="3.31"/>
<rect x="502.84" y="430.72" width="3.31" height="3.31"/>
<rect x="499.04" y="397.64" width="3.31" height="3.31"/>
</g>
<path d="M426.1 374.75V467.3H511.2" fill="none" stroke="#000" stroke-width="1.6"/>
<line x1="422.5" y1="375.4" x2="426.1" y2="375.4" stroke="#000" stroke-width="1.2"/>
<text x="421.3" y="378.9" font-size="8.4" text-anchor="end" textLength="12.81" lengthAdjust="spacingAndGlyphs">300</text>
<line x1="422.5" y1="406.1" x2="426.1" y2="406.1" stroke="#000" stroke-width="1.2"/>
<text x="421.3" y="409.6" font-size="8.4" text-anchor="end" textLength="12.81" lengthAdjust="spacingAndGlyphs">200</text>
<line x1="422.5" y1="436.8" x2="426.1" y2="436.8" stroke="#000" stroke-width="1.2"/>
<text x="421.3" y="440.3" font-size="8.4" text-anchor="end" textLength="12.81" lengthAdjust="spacingAndGlyphs">100</text>
<line x1="422.5" y1="467.3" x2="426.1" y2="467.3" stroke="#000" stroke-width="1.2"/>
<text x="421.3" y="470.8" font-size="8.4" text-anchor="end" textLength="4.27" lengthAdjust="spacingAndGlyphs">0</text>
<line x1="437.1" y1="467.3" x2="437.1" y2="470.9" stroke="#000" stroke-width="1.2"/>
<line x1="453" y1="467.3" x2="453" y2="470.9" stroke="#000" stroke-width="1.2"/>
<line x1="468.9" y1="467.3" x2="468.9" y2="470.9" stroke="#000" stroke-width="1.2"/>
<line x1="484.8" y1="467.3" x2="484.8" y2="470.9" stroke="#000" stroke-width="1.2"/>
<line x1="500.7" y1="467.3" x2="500.7" y2="470.9" stroke="#000" stroke-width="1.2"/>
<text x="440.5" y="477.1" font-size="8.5" text-anchor="end" textLength="9.79" lengthAdjust="spacingAndGlyphs" transform="rotate(-45 440.5 477.1)" stroke="#111" stroke-width="0.2">B6</text>
<text x="456.4" y="477.1" font-size="8.5" text-anchor="end" textLength="34.21" lengthAdjust="spacingAndGlyphs" transform="rotate(-45 456.4 477.1)" stroke="#111" stroke-width="0.2">FO B dep</text>
<text x="472.3" y="477.1" font-size="8.5" text-anchor="end" textLength="31.52" lengthAdjust="spacingAndGlyphs" transform="rotate(-45 472.3 477.1)" stroke="#111" stroke-width="0.2">FO B ctrl</text>
<text x="488.2" y="477.1" font-size="8.5" text-anchor="end" textLength="39.98" lengthAdjust="spacingAndGlyphs" transform="rotate(-45 488.2 477.1)" stroke="#111" stroke-width="0.2">Total B dep</text>
<text x="504.1" y="477.1" font-size="8.5" text-anchor="end" textLength="37.31" lengthAdjust="spacingAndGlyphs" transform="rotate(-45 504.1 477.1)" stroke="#111" stroke-width="0.2">Total B ctrl</text>
<path d="M429.8 369.2V366.7H503V369.2" fill="none" stroke="#000" stroke-width="1.35"/>
<text x="466" y="365.1" font-size="5.5" text-anchor="middle" font-style="italic">ns</text>
<path d="M429.8 375.7V373.2H487.7V375.7" fill="none" stroke="#000" stroke-width="1.35"/>
<text x="458.8" y="374.1" font-size="5.7" text-anchor="middle" textLength="2.5" lengthAdjust="spacingAndGlyphs" stroke="#111" stroke-width="0.15">*</text>
<path d="M429.8 382.3V379.8H473.7V382.3" fill="none" stroke="#000" stroke-width="1.35"/>
<text x="451.5" y="378.2" font-size="5.5" text-anchor="middle" font-style="italic">ns</text>
<path d="M429.8 388.7V386.2H457.7V388.7" fill="none" stroke="#000" stroke-width="1.35"/>
<text x="443.5" y="384.6" font-size="5.5" text-anchor="middle" font-style="italic">ns</text>
<text x="466.2" y="356" font-size="9.9" text-anchor="middle" textLength="17.06" lengthAdjust="spacingAndGlyphs">D21</text>
<text x="403.3" y="421.35" font-size="9.3" text-anchor="middle" textLength="59" lengthAdjust="spacingAndGlyphs" transform="rotate(-90 403.3 421.35)" stroke="#111" stroke-width="0.15">Anti-HOD IgG MFI</text>
</g>
<g id="panelG">
<rect x="41.3" y="605.76" width="11" height="29.44" fill="#c8102e"/>
<rect x="57.68" y="619.38" width="11" height="15.82" fill="#14568f"/>
<rect x="74.06" y="596.56" width="11" height="38.64" fill="#3ab54a"/>
<rect x="90.44" y="633.73" width="11" height="1.47" fill="#7b2d8b"/>
<rect x="106.82" y="616.06" width="11" height="19.14" fill="#ff8f00"/>
<line x1="46.8" y1="580" x2="46.8" y2="631.52" stroke="#000" stroke-width="1.15"/>
<line x1="43.4" y1="580" x2="50.2" y2="580" stroke="#000" stroke-width="1.3"/>
<line x1="43.4" y1="631.52" x2="50.2" y2="631.52" stroke="#000" stroke-width="1.3"/>
<line x1="63.18" y1="604.84" x2="63.18" y2="634.1" stroke="#000" stroke-width="1.15"/>
<line x1="59.78" y1="604.84" x2="66.58" y2="604.84" stroke="#000" stroke-width="1.3"/>
<line x1="59.78" y1="634.1" x2="66.58" y2="634.1" stroke="#000" stroke-width="1.3"/>
<line x1="79.56" y1="571.54" x2="79.56" y2="621.58" stroke="#000" stroke-width="1.15"/>
<line x1="76.16" y1="571.54" x2="82.96" y2="571.54" stroke="#000" stroke-width="1.3"/>
<line x1="76.16" y1="621.58" x2="82.96" y2="621.58" stroke="#000" stroke-width="1.3"/>
<line x1="95.94" y1="632.26" x2="95.94" y2="635.2" stroke="#000" stroke-width="1.15"/>
<line x1="92.54" y1="632.26" x2="99.34" y2="632.26" stroke="#000" stroke-width="1.3"/>
<line x1="112.32" y1="603.18" x2="112.32" y2="629.68" stroke="#000" stroke-width="1.15"/>
<line x1="108.92" y1="603.18" x2="115.72" y2="603.18" stroke="#000" stroke-width="1.3"/>
<line x1="108.92" y1="629.68" x2="115.72" y2="629.68" stroke="#000" stroke-width="1.3"/>
<g fill="#000">
<circle cx="46.8" cy="627.84" r="1.8"/>
<circle cx="50.6" cy="627.1" r="1.8"/>
<circle cx="43" cy="624.53" r="1.8"/>
<circle cx="46.8" cy="621.58" r="1.8"/>
<circle cx="43" cy="620.48" r="1.8"/>
<circle cx="50.6" cy="618.27" r="1.8"/>
<circle cx="46.8" cy="614.96" r="1.8"/>
<circle cx="46.8" cy="574.48" r="1.8"/>
<circle cx="46.8" cy="555.16" r="1.8"/>
<circle cx="63.18" cy="633.73" r="1.8"/>
<circle cx="66.98" cy="632.99" r="1.8"/>
<circle cx="59.38" cy="632.26" r="1.8"/>
<circle cx="61.38" cy="631.15" r="1.8"/>
<circle cx="63.18" cy="626" r="1.8"/>
<circle cx="66.98" cy="624.9" r="1.8"/>
<circle cx="63.18" cy="618.64" r="1.8"/>
<circle cx="63.18" cy="599.14" r="1.8"/>
<circle cx="63.18" cy="594.17" r="1.8"/>
<circle cx="79.56" cy="632.26" r="1.8"/>
<circle cx="83.36" cy="631.52" r="1.8"/>
<circle cx="79.56" cy="614.59" r="1.8"/>
<circle cx="83.36" cy="613.12" r="1.8"/>
<circle cx="79.56" cy="597.3" r="1.8"/>
<circle cx="83.36" cy="595.82" r="1.8"/>
<circle cx="79.56" cy="576.32" r="1.8"/>
<circle cx="83.36" cy="573.01" r="1.8"/>
<circle cx="79.56" cy="571.9" r="1.8"/>
<circle cx="79.56" cy="561.6" r="1.8"/>
<circle cx="95.94" cy="634.83" r="1.8"/>
<circle cx="99.74" cy="634.65" r="1.8"/>
<circle cx="92.14" cy="634.1" r="1.8"/>
<circle cx="99.44" cy="633.73" r="1.8"/>
<circle cx="95.94" cy="631.15" r="1.8"/>
<circle cx="112.32" cy="632.99" r="1.8"/>
<circle cx="116.12" cy="631.15" r="1.8"/>
<circle cx="108.52" cy="630.05" r="1.8"/>
<circle cx="112.32" cy="626" r="1.8"/>
<circle cx="112.32" cy="613.12" r="1.8"/>
<circle cx="112.32" cy="609.07" r="1.8"/>
<circle cx="112.32" cy="603.55" r="1.8"/>
<circle cx="116.12" cy="602.82" r="1.8"/>
<circle cx="108.52" cy="602.08" r="1.8"/>
</g>
<path d="M35.6 542.55V635.2H120.6" fill="none" stroke="#000" stroke-width="1.6"/>
<line x1="32" y1="543.2" x2="35.6" y2="543.2" stroke="#000" stroke-width="1.2"/>
<text x="29.5" y="546.7" font-size="8.4" text-anchor="end" textLength="8.54" lengthAdjust="spacingAndGlyphs">50</text>
<line x1="32" y1="561.6" x2="35.6" y2="561.6" stroke="#000" stroke-width="1.2"/>
<text x="29.5" y="565.1" font-size="8.4" text-anchor="end" textLength="8.54" lengthAdjust="spacingAndGlyphs">40</text>
<line x1="32" y1="580" x2="35.6" y2="580" stroke="#000" stroke-width="1.2"/>
<text x="29.5" y="583.5" font-size="8.4" text-anchor="end" textLength="8.54" lengthAdjust="spacingAndGlyphs">30</text>
<line x1="32" y1="598.4" x2="35.6" y2="598.4" stroke="#000" stroke-width="1.2"/>
<text x="29.5" y="601.9" font-size="8.4" text-anchor="end" textLength="8.54" lengthAdjust="spacingAndGlyphs">20</text>
<line x1="32" y1="616.8" x2="35.6" y2="616.8" stroke="#000" stroke-width="1.2"/>
<text x="29.5" y="620.3" font-size="8.4" text-anchor="end" textLength="8.54" lengthAdjust="spacingAndGlyphs">10</text>
<line x1="32" y1="635.2" x2="35.6" y2="635.2" stroke="#000" stroke-width="1.2"/>
<text x="29.5" y="638.7" font-size="8.4" text-anchor="end" textLength="4.27" lengthAdjust="spacingAndGlyphs">0</text>
<line x1="46.8" y1="635.2" x2="46.8" y2="638.8" stroke="#000" stroke-width="1.2"/>
<line x1="63.18" y1="635.2" x2="63.18" y2="638.8" stroke="#000" stroke-width="1.2"/>
<line x1="79.56" y1="635.2" x2="79.56" y2="638.8" stroke="#000" stroke-width="1.2"/>
<line x1="95.94" y1="635.2" x2="95.94" y2="638.8" stroke="#000" stroke-width="1.2"/>
<line x1="112.32" y1="635.2" x2="112.32" y2="638.8" stroke="#000" stroke-width="1.2"/>
<text x="50.2" y="645" font-size="8.5" text-anchor="end" textLength="9.79" lengthAdjust="spacingAndGlyphs" transform="rotate(-45 50.2 645)" stroke="#111" stroke-width="0.2">B6</text>
<text x="66.58" y="645" font-size="8.5" text-anchor="end" textLength="34.21" lengthAdjust="spacingAndGlyphs" transform="rotate(-45 66.58 645)" stroke="#111" stroke-width="0.2">FO B dep</text>
<text x="82.96" y="645" font-size="8.5" text-anchor="end" textLength="31.52" lengthAdjust="spacingAndGlyphs" transform="rotate(-45 82.96 645)" stroke="#111" stroke-width="0.2">FO B ctrl</text>
<text x="99.34" y="645" font-size="8.5" text-anchor="end" textLength="39.98" lengthAdjust="spacingAndGlyphs" transform="rotate(-45 99.34 645)" stroke="#111" stroke-width="0.2">Total B dep</text>
<text x="115.72" y="645" font-size="8.5" text-anchor="end" textLength="37.31" lengthAdjust="spacingAndGlyphs" transform="rotate(-45 115.72 645)" stroke="#111" stroke-width="0.2">Total B ctrl</text>
<path d="M39.5 535.5V533H113V535.5" fill="none" stroke="#000" stroke-width="1.35"/>
<text x="76.8" y="531.4" font-size="5.5" text-anchor="middle" font-style="italic">ns</text>
<path d="M39.5 541.9V539.4H97.5V541.9" fill="none" stroke="#000" stroke-width="1.35"/>
<text x="68.8" y="540.3" font-size="5.7" text-anchor="middle" textLength="2.5" lengthAdjust="spacingAndGlyphs" stroke="#111" stroke-width="0.15">*</text>
<path d="M39.5 548.3V545.8H83.3V548.3" fill="none" stroke="#000" stroke-width="1.35"/>
<text x="61.3" y="544.2" font-size="5.5" text-anchor="middle" font-style="italic">ns</text>
<path d="M39.5 554.5V552H67.5V554.5" fill="none" stroke="#000" stroke-width="1.35"/>
<text x="53.8" y="550.4" font-size="5.5" text-anchor="middle" font-style="italic">ns</text>
<text x="75.9" y="522.8" font-size="9.9" text-anchor="middle" textLength="40.98" lengthAdjust="spacingAndGlyphs">D14 IgG1</text>
<text x="14.9" y="589.2" font-size="9.3" text-anchor="middle" textLength="59" lengthAdjust="spacingAndGlyphs" transform="rotate(-90 14.9 589.2)" stroke="#111" stroke-width="0.15">Anti-HOD IgG MFI</text>
<rect x="174" y="614.96" width="10.8" height="20.24" fill="#c8102e"/>
<rect x="190.05" y="624.16" width="10.8" height="11.04" fill="#14568f"/>
<rect x="206.1" y="609.07" width="10.8" height="26.13" fill="#3ab54a"/>
<rect x="222.15" y="631.15" width="10.8" height="4.05" fill="#7b2d8b"/>
<rect x="238.2" y="611.28" width="10.8" height="23.92" fill="#ff8f00"/>
<line x1="179.4" y1="594.72" x2="179.4" y2="631.52" stroke="#000" stroke-width="1.15"/>
<line x1="176" y1="594.72" x2="182.8" y2="594.72" stroke="#000" stroke-width="1.3"/>
<line x1="176" y1="631.52" x2="182.8" y2="631.52" stroke="#000" stroke-width="1.3"/>
<line x1="195.45" y1="616.06" x2="195.45" y2="631.52" stroke="#000" stroke-width="1.15"/>
<line x1="192.05" y1="616.06" x2="198.85" y2="616.06" stroke="#000" stroke-width="1.3"/>
<line x1="192.05" y1="631.52" x2="198.85" y2="631.52" stroke="#000" stroke-width="1.3"/>
<line x1="211.5" y1="585.52" x2="211.5" y2="632.26" stroke="#000" stroke-width="1.15"/>
<line x1="208.1" y1="585.52" x2="214.9" y2="585.52" stroke="#000" stroke-width="1.3"/>
<line x1="208.1" y1="632.26" x2="214.9" y2="632.26" stroke="#000" stroke-width="1.3"/>
<line x1="227.55" y1="622.32" x2="227.55" y2="635.2" stroke="#000" stroke-width="1.15"/>
<line x1="224.15" y1="622.32" x2="230.95" y2="622.32" stroke="#000" stroke-width="1.3"/>
<line x1="243.6" y1="591.04" x2="243.6" y2="631.15" stroke="#000" stroke-width="1.15"/>
<line x1="240.2" y1="591.04" x2="247" y2="591.04" stroke="#000" stroke-width="1.3"/>
<line x1="240.2" y1="631.15" x2="247" y2="631.15" stroke="#000" stroke-width="1.3"/>
<g fill="#000">
<circle cx="179.4" cy="632.26" r="1.8"/>
<circle cx="183.2" cy="631.15" r="1.8"/>
<circle cx="179.4" cy="627.1" r="1.8"/>
<circle cx="183.2" cy="626" r="1.8"/>
<circle cx="175.6" cy="624.9" r="1.8"/>
<circle cx="179.4" cy="620.48" r="1.8"/>
<circle cx="179.4" cy="605.39" r="1.8"/>
<circle cx="179.4" cy="592.88" r="1.8"/>
<circle cx="179.4" cy="570.8" r="1.8"/>
<circle cx="195.45" cy="633.36" r="1.8"/>
<circle cx="199.25" cy="632.62" r="1.8"/>
<circle cx="191.65" cy="631.52" r="1.8"/>
<circle cx="195.45" cy="624.16" r="1.8"/>
<circle cx="191.65" cy="621.95" r="1.8"/>
<circle cx="199.25" cy="621.22" r="1.8"/>
<circle cx="195.45" cy="620.48" r="1.8"/>
<circle cx="195.45" cy="606.5" r="1.8"/>
<circle cx="211.5" cy="633.36" r="1.8"/>
<circle cx="215.3" cy="632.26" r="1.8"/>
<circle cx="211.5" cy="628.94" r="1.8"/>
<circle cx="215.3" cy="627.84" r="1.8"/>
<circle cx="211.5" cy="618.64" r="1.8"/>
<circle cx="211.5" cy="613.49" r="1.8"/>
<circle cx="211.5" cy="597.3" r="1.8"/>
<circle cx="211.5" cy="585.52" r="1.8"/>
<circle cx="207.7" cy="585.15" r="1.8"/>
<circle cx="211.5" cy="567.12" r="1.8"/>
<circle cx="227.55" cy="634.83" r="1.8"/>
<circle cx="231.35" cy="634.46" r="1.8"/>
<circle cx="223.75" cy="634.1" r="1.8"/>
<circle cx="231.05" cy="633.36" r="1.8"/>
<circle cx="225.75" cy="632.26" r="1.8"/>
<circle cx="227.55" cy="608.34" r="1.8"/>
<circle cx="243.6" cy="631.52" r="1.8"/>
<circle cx="247.4" cy="631.15" r="1.8"/>
<circle cx="239.8" cy="630.42" r="1.8"/>
<circle cx="243.6" cy="627.1" r="1.8"/>
<circle cx="243.6" cy="620.48" r="1.8"/>
<circle cx="243.6" cy="614.22" r="1.8"/>
<circle cx="239.8" cy="613.12" r="1.8"/>
<circle cx="243.6" cy="601.71" r="1.8"/>
<circle cx="243.6" cy="594.72" r="1.8"/>
<circle cx="243.6" cy="567.49" r="1.8"/>
</g>
<path d="M168.7 542.55V635.2H253.7" fill="none" stroke="#000" stroke-width="1.6"/>
<line x1="165.1" y1="543.2" x2="168.7" y2="543.2" stroke="#000" stroke-width="1.2"/>
<text x="162.4" y="546.7" font-size="8.4" text-anchor="end" textLength="8.54" lengthAdjust="spacingAndGlyphs">50</text>
<line x1="165.1" y1="561.6" x2="168.7" y2="561.6" stroke="#000" stroke-width="1.2"/>
<text x="162.4" y="565.1" font-size="8.4" text-anchor="end" textLength="8.54" lengthAdjust="spacingAndGlyphs">40</text>
<line x1="165.1" y1="580" x2="168.7" y2="580" stroke="#000" stroke-width="1.2"/>
<text x="162.4" y="583.5" font-size="8.4" text-anchor="end" textLength="8.54" lengthAdjust="spacingAndGlyphs">30</text>
<line x1="165.1" y1="598.4" x2="168.7" y2="598.4" stroke="#000" stroke-width="1.2"/>
<text x="162.4" y="601.9" font-size="8.4" text-anchor="end" textLength="8.54" lengthAdjust="spacingAndGlyphs">20</text>
<line x1="165.1" y1="616.8" x2="168.7" y2="616.8" stroke="#000" stroke-width="1.2"/>
<text x="162.4" y="620.3" font-size="8.4" text-anchor="end" textLength="8.54" lengthAdjust="spacingAndGlyphs">10</text>
<line x1="165.1" y1="635.2" x2="168.7" y2="635.2" stroke="#000" stroke-width="1.2"/>
<text x="162.4" y="638.7" font-size="8.4" text-anchor="end" textLength="4.27" lengthAdjust="spacingAndGlyphs">0</text>
<line x1="179.4" y1="635.2" x2="179.4" y2="638.8" stroke="#000" stroke-width="1.2"/>
<line x1="195.45" y1="635.2" x2="195.45" y2="638.8" stroke="#000" stroke-width="1.2"/>
<line x1="211.5" y1="635.2" x2="211.5" y2="638.8" stroke="#000" stroke-width="1.2"/>
<line x1="227.55" y1="635.2" x2="227.55" y2="638.8" stroke="#000" stroke-width="1.2"/>
<line x1="243.6" y1="635.2" x2="243.6" y2="638.8" stroke="#000" stroke-width="1.2"/>
<text x="182.8" y="645" font-size="8.5" text-anchor="end" textLength="9.79" lengthAdjust="spacingAndGlyphs" transform="rotate(-45 182.8 645)" stroke="#111" stroke-width="0.2">B6</text>
<text x="198.85" y="645" font-size="8.5" text-anchor="end" textLength="34.21" lengthAdjust="spacingAndGlyphs" transform="rotate(-45 198.85 645)" stroke="#111" stroke-width="0.2">FO B dep</text>
<text x="214.9" y="645" font-size="8.5" text-anchor="end" textLength="31.52" lengthAdjust="spacingAndGlyphs" transform="rotate(-45 214.9 645)" stroke="#111" stroke-width="0.2">FO B ctrl</text>
<text x="230.95" y="645" font-size="8.5" text-anchor="end" textLength="39.98" lengthAdjust="spacingAndGlyphs" transform="rotate(-45 230.95 645)" stroke="#111" stroke-width="0.2">Total B dep</text>
<text x="247" y="645" font-size="8.5" text-anchor="end" textLength="37.31" lengthAdjust="spacingAndGlyphs" transform="rotate(-45 247 645)" stroke="#111" stroke-width="0.2">Total B ctrl</text>
<path d="M172.5 535.5V533H246.3V535.5" fill="none" stroke="#000" stroke-width="1.35"/>
<text x="209.5" y="531.4" font-size="5.5" text-anchor="middle" font-style="italic">ns</text>
<path d="M172.5 541.9V539.4H230.8V541.9" fill="none" stroke="#000" stroke-width="1.35"/>
<text x="201.8" y="537.8" font-size="5.5" text-anchor="middle" font-style="italic">ns</text>
<path d="M172.5 548.3V545.8H216.5V548.3" fill="none" stroke="#000" stroke-width="1.35"/>
<text x="194.5" y="544.2" font-size="5.5" text-anchor="middle" font-style="italic">ns</text>
<path d="M172.5 554.5V552H200.5V554.5" fill="none" stroke="#000" stroke-width="1.35"/>
<text x="187" y="550.4" font-size="5.5" text-anchor="middle" font-style="italic">ns</text>
<text x="209.4" y="522.8" font-size="9.9" text-anchor="middle" textLength="48.05" lengthAdjust="spacingAndGlyphs">D14 IgG2b</text>
<text x="144.4" y="589.2" font-size="9.3" text-anchor="middle" textLength="67" lengthAdjust="spacingAndGlyphs" transform="rotate(-90 144.4 589.2)" stroke="#111" stroke-width="0.15">Anti-HOD IgG2b MFI</text>
<rect x="303.9" y="632.99" width="10.6" height="2.21" fill="#c8102e"/>
<rect x="319.9" y="633.73" width="10.6" height="1.47" fill="#14568f"/>
<rect x="335.9" y="632.81" width="10.6" height="2.39" fill="#3ab54a"/>
<rect x="351.9" y="634.65" width="10.6" height="0.55" fill="#7b2d8b"/>
<rect x="367.9" y="632.62" width="10.6" height="2.58" fill="#ff8f00"/>
<line x1="309.2" y1="628.21" x2="309.2" y2="635.2" stroke="#000" stroke-width="1.15"/>
<line x1="305.8" y1="628.21" x2="312.6" y2="628.21" stroke="#000" stroke-width="1.3"/>
<line x1="325.2" y1="630.42" x2="325.2" y2="635.2" stroke="#000" stroke-width="1.15"/>
<line x1="321.8" y1="630.42" x2="328.6" y2="630.42" stroke="#000" stroke-width="1.3"/>
<line x1="341.2" y1="628.58" x2="341.2" y2="635.2" stroke="#000" stroke-width="1.15"/>
<line x1="337.8" y1="628.58" x2="344.6" y2="628.58" stroke="#000" stroke-width="1.3"/>
<line x1="373.2" y1="628.21" x2="373.2" y2="635.2" stroke="#000" stroke-width="1.15"/>
<line x1="369.8" y1="628.21" x2="376.6" y2="628.21" stroke="#000" stroke-width="1.3"/>
<g fill="#000">
<circle cx="309.2" cy="634.83" r="1.8"/>
<circle cx="313" cy="634.65" r="1.8"/>
<circle cx="305.4" cy="634.46" r="1.8"/>
<circle cx="311" cy="634.1" r="1.8"/>
<circle cx="309.2" cy="633.73" r="1.8"/>
<circle cx="307.4" cy="632.99" r="1.8"/>
<circle cx="307.4" cy="632.26" r="1.8"/>
<circle cx="309.2" cy="628.58" r="1.8"/>
<circle cx="309.2" cy="624.9" r="1.8"/>
<circle cx="325.2" cy="634.83" r="1.8"/>
<circle cx="329" cy="634.65" r="1.8"/>
<circle cx="321.4" cy="634.46" r="1.8"/>
<circle cx="328.7" cy="634.1" r="1.8"/>
<circle cx="328.7" cy="633.73" r="1.8"/>
<circle cx="321.7" cy="632.99" r="1.8"/>
<circle cx="323.4" cy="631.89" r="1.8"/>
<circle cx="325.2" cy="625.63" r="1.8"/>
<circle cx="341.2" cy="634.83" r="1.8"/>
<circle cx="345" cy="634.65" r="1.8"/>
<circle cx="337.4" cy="634.46" r="1.8"/>
<circle cx="341.2" cy="634.1" r="1.8"/>
<circle cx="343" cy="633.73" r="1.8"/>
<circle cx="341.2" cy="632.99" r="1.8"/>
<circle cx="337.7" cy="632.26" r="1.8"/>
<circle cx="339.4" cy="631.52" r="1.8"/>
<circle cx="345" cy="629.68" r="1.8"/>
<circle cx="341.2" cy="623.79" r="1.8"/>
<circle cx="357.2" cy="634.83" r="1.8"/>
<circle cx="361" cy="634.65" r="1.8"/>
<circle cx="353.4" cy="634.46" r="1.8"/>
<circle cx="357.2" cy="634.28" r="1.8"/>
<circle cx="357.2" cy="633.73" r="1.8"/>
<circle cx="373.2" cy="634.83" r="1.8"/>
<circle cx="377" cy="634.46" r="1.8"/>
<circle cx="369.4" cy="634.1" r="1.8"/>
<circle cx="369.7" cy="633.73" r="1.8"/>
<circle cx="375" cy="633.36" r="1.8"/>
<circle cx="376.7" cy="632.62" r="1.8"/>
<circle cx="375" cy="631.89" r="1.8"/>
<circle cx="375" cy="631.15" r="1.8"/>
<circle cx="373.2" cy="621.58" r="1.8"/>
</g>
<path d="M298.6 542.55V635.2H383.7" fill="none" stroke="#000" stroke-width="1.6"/>
<line x1="295" y1="543.2" x2="298.6" y2="543.2" stroke="#000" stroke-width="1.2"/>
<text x="292.3" y="546.7" font-size="8.4" text-anchor="end" textLength="8.54" lengthAdjust="spacingAndGlyphs">50</text>
<line x1="295" y1="561.6" x2="298.6" y2="561.6" stroke="#000" stroke-width="1.2"/>
<text x="292.3" y="565.1" font-size="8.4" text-anchor="end" textLength="8.54" lengthAdjust="spacingAndGlyphs">40</text>
<line x1="295" y1="580" x2="298.6" y2="580" stroke="#000" stroke-width="1.2"/>
<text x="292.3" y="583.5" font-size="8.4" text-anchor="end" textLength="8.54" lengthAdjust="spacingAndGlyphs">30</text>
<line x1="295" y1="598.4" x2="298.6" y2="598.4" stroke="#000" stroke-width="1.2"/>
<text x="292.3" y="601.9" font-size="8.4" text-anchor="end" textLength="8.54" lengthAdjust="spacingAndGlyphs">20</text>
<line x1="295" y1="616.8" x2="298.6" y2="616.8" stroke="#000" stroke-width="1.2"/>
<text x="292.3" y="620.3" font-size="8.4" text-anchor="end" textLength="8.54" lengthAdjust="spacingAndGlyphs">10</text>
<line x1="295" y1="635.2" x2="298.6" y2="635.2" stroke="#000" stroke-width="1.2"/>
<text x="292.3" y="638.7" font-size="8.4" text-anchor="end" textLength="4.27" lengthAdjust="spacingAndGlyphs">0</text>
<line x1="309.2" y1="635.2" x2="309.2" y2="638.8" stroke="#000" stroke-width="1.2"/>
<line x1="325.2" y1="635.2" x2="325.2" y2="638.8" stroke="#000" stroke-width="1.2"/>
<line x1="341.2" y1="635.2" x2="341.2" y2="638.8" stroke="#000" stroke-width="1.2"/>
<line x1="357.2" y1="635.2" x2="357.2" y2="638.8" stroke="#000" stroke-width="1.2"/>
<line x1="373.2" y1="635.2" x2="373.2" y2="638.8" stroke="#000" stroke-width="1.2"/>
<text x="312.6" y="645" font-size="8.5" text-anchor="end" textLength="9.79" lengthAdjust="spacingAndGlyphs" transform="rotate(-45 312.6 645)" stroke="#111" stroke-width="0.2">B6</text>
<text x="328.6" y="645" font-size="8.5" text-anchor="end" textLength="34.21" lengthAdjust="spacingAndGlyphs" transform="rotate(-45 328.6 645)" stroke="#111" stroke-width="0.2">FO B dep</text>
<text x="344.6" y="645" font-size="8.5" text-anchor="end" textLength="31.52" lengthAdjust="spacingAndGlyphs" transform="rotate(-45 344.6 645)" stroke="#111" stroke-width="0.2">FO B ctrl</text>
<text x="360.6" y="645" font-size="8.5" text-anchor="end" textLength="39.98" lengthAdjust="spacingAndGlyphs" transform="rotate(-45 360.6 645)" stroke="#111" stroke-width="0.2">Total B dep</text>
<text x="376.6" y="645" font-size="8.5" text-anchor="end" textLength="37.31" lengthAdjust="spacingAndGlyphs" transform="rotate(-45 376.6 645)" stroke="#111" stroke-width="0.2">Total B ctrl</text>
<path d="M302.5 535.5V533H375.8V535.5" fill="none" stroke="#000" stroke-width="1.35"/>
<text x="339.3" y="531.4" font-size="5.5" text-anchor="middle" font-style="italic">ns</text>
<path d="M302.5 541.9V539.4H360.5V541.9" fill="none" stroke="#000" stroke-width="1.35"/>
<text x="331.8" y="537.8" font-size="5.5" text-anchor="middle" font-style="italic">ns</text>
<path d="M302.5 548.3V545.8H346.5V548.3" fill="none" stroke="#000" stroke-width="1.35"/>
<text x="324.5" y="544.2" font-size="5.5" text-anchor="middle" font-style="italic">ns</text>
<path d="M302.5 554.5V552H330.5V554.5" fill="none" stroke="#000" stroke-width="1.35"/>
<text x="317" y="550.4" font-size="5.5" text-anchor="middle" font-style="italic">ns</text>
<text x="339.5" y="522.8" font-size="9.9" text-anchor="middle" textLength="46.8" lengthAdjust="spacingAndGlyphs">D14 IgG2c</text>
<text x="274.8" y="589.2" font-size="9.3" text-anchor="middle" textLength="59" lengthAdjust="spacingAndGlyphs" transform="rotate(-90 274.8 589.2)" stroke="#111" stroke-width="0.15">Anti-HOD IgG MFI</text>
<rect x="433.5" y="626" width="10.6" height="9.2" fill="#c8102e"/>
<rect x="449.5" y="631.52" width="10.6" height="3.68" fill="#14568f"/>
<rect x="465.5" y="625.45" width="10.6" height="9.75" fill="#3ab54a"/>
<rect x="481.5" y="634.83" width="10.6" height="0.37" fill="#7b2d8b"/>
<rect x="497.5" y="624.9" width="10.6" height="10.3" fill="#ff8f00"/>
<line x1="438.8" y1="620.48" x2="438.8" y2="631.52" stroke="#000" stroke-width="1.15"/>
<line x1="435.4" y1="620.48" x2="442.2" y2="620.48" stroke="#000" stroke-width="1.3"/>
<line x1="435.4" y1="631.52" x2="442.2" y2="631.52" stroke="#000" stroke-width="1.3"/>
<line x1="454.8" y1="626.74" x2="454.8" y2="635.2" stroke="#000" stroke-width="1.15"/>
<line x1="451.4" y1="626.74" x2="458.2" y2="626.74" stroke="#000" stroke-width="1.3"/>
<line x1="470.8" y1="621.77" x2="470.8" y2="629.13" stroke="#000" stroke-width="1.15"/>
<line x1="467.4" y1="621.77" x2="474.2" y2="621.77" stroke="#000" stroke-width="1.3"/>
<line x1="467.4" y1="629.13" x2="474.2" y2="629.13" stroke="#000" stroke-width="1.3"/>
<line x1="502.8" y1="620.48" x2="502.8" y2="629.13" stroke="#000" stroke-width="1.15"/>
<line x1="499.4" y1="620.48" x2="506.2" y2="620.48" stroke="#000" stroke-width="1.3"/>
<line x1="499.4" y1="629.13" x2="506.2" y2="629.13" stroke="#000" stroke-width="1.3"/>
<g fill="#000">
<circle cx="438.8" cy="630.42" r="1.8"/>
<circle cx="442.6" cy="629.68" r="1.8"/>
<circle cx="435" cy="628.58" r="1.8"/>
<circle cx="438.8" cy="627.84" r="1.8"/>
<circle cx="435.3" cy="627.1" r="1.8"/>
<circle cx="442.6" cy="626" r="1.8"/>
<circle cx="440.6" cy="624.9" r="1.8"/>
<circle cx="435" cy="623.42" r="1.8"/>
<circle cx="438.8" cy="612.38" r="1.8"/>
<circle cx="454.8" cy="634.28" r="1.8"/>
<circle cx="458.6" cy="633.73" r="1.8"/>
<circle cx="451" cy="632.99" r="1.8"/>
<circle cx="456.6" cy="632.26" r="1.8"/>
<circle cx="454.8" cy="630.78" r="1.8"/>
<circle cx="458.6" cy="629.31" r="1.8"/>
<circle cx="451" cy="627.84" r="1.8"/>
<circle cx="454.8" cy="619.74" r="1.8"/>
<circle cx="470.8" cy="631.52" r="1.8"/>
<circle cx="474.6" cy="630.42" r="1.8"/>
<circle cx="467" cy="628.58" r="1.8"/>
<circle cx="470.8" cy="627.1" r="1.8"/>
<circle cx="474.6" cy="626" r="1.8"/>
<circle cx="467" cy="624.9" r="1.8"/>
<circle cx="467.3" cy="623.79" r="1.8"/>
<circle cx="470.8" cy="622.69" r="1.8"/>
<circle cx="474.6" cy="621.58" r="1.8"/>
<circle cx="467" cy="619.38" r="1.8"/>
<circle cx="486.8" cy="635.02" r="1.8"/>
<circle cx="490.6" cy="634.83" r="1.8"/>
<circle cx="483" cy="634.65" r="1.8"/>
<circle cx="490.3" cy="634.28" r="1.8"/>
<circle cx="488.6" cy="633.36" r="1.8"/>
<circle cx="502.8" cy="630.05" r="1.8"/>
<circle cx="506.6" cy="628.94" r="1.8"/>
<circle cx="499" cy="627.47" r="1.8"/>
<circle cx="502.8" cy="626.37" r="1.8"/>
<circle cx="506.6" cy="625.26" r="1.8"/>
<circle cx="497.8" cy="624.16" r="1.8"/>
<circle cx="504.6" cy="623.06" r="1.8"/>
<circle cx="500.9" cy="621.58" r="1.8"/>
<circle cx="506.6" cy="619.38" r="1.8"/>
<circle cx="502.8" cy="616.06" r="1.8"/>
</g>
<path d="M427.7 542.55V635.2H513" fill="none" stroke="#000" stroke-width="1.6"/>
<line x1="424.1" y1="543.2" x2="427.7" y2="543.2" stroke="#000" stroke-width="1.2"/>
<text x="421.6" y="546.7" font-size="8.4" text-anchor="end" textLength="8.54" lengthAdjust="spacingAndGlyphs">50</text>
<line x1="424.1" y1="561.6" x2="427.7" y2="561.6" stroke="#000" stroke-width="1.2"/>
<text x="421.6" y="565.1" font-size="8.4" text-anchor="end" textLength="8.54" lengthAdjust="spacingAndGlyphs">40</text>
<line x1="424.1" y1="580" x2="427.7" y2="580" stroke="#000" stroke-width="1.2"/>
<text x="421.6" y="583.5" font-size="8.4" text-anchor="end" textLength="8.54" lengthAdjust="spacingAndGlyphs">30</text>
<line x1="424.1" y1="598.4" x2="427.7" y2="598.4" stroke="#000" stroke-width="1.2"/>
<text x="421.6" y="601.9" font-size="8.4" text-anchor="end" textLength="8.54" lengthAdjust="spacingAndGlyphs">20</text>
<line x1="424.1" y1="616.8" x2="427.7" y2="616.8" stroke="#000" stroke-width="1.2"/>
<text x="421.6" y="620.3" font-size="8.4" text-anchor="end" textLength="8.54" lengthAdjust="spacingAndGlyphs">10</text>
<line x1="424.1" y1="635.2" x2="427.7" y2="635.2" stroke="#000" stroke-width="1.2"/>
<text x="421.6" y="638.7" font-size="8.4" text-anchor="end" textLength="4.27" lengthAdjust="spacingAndGlyphs">0</text>
<line x1="438.8" y1="635.2" x2="438.8" y2="638.8" stroke="#000" stroke-width="1.2"/>
<line x1="454.8" y1="635.2" x2="454.8" y2="638.8" stroke="#000" stroke-width="1.2"/>
<line x1="470.8" y1="635.2" x2="470.8" y2="638.8" stroke="#000" stroke-width="1.2"/>
<line x1="486.8" y1="635.2" x2="486.8" y2="638.8" stroke="#000" stroke-width="1.2"/>
<line x1="502.8" y1="635.2" x2="502.8" y2="638.8" stroke="#000" stroke-width="1.2"/>
<text x="442.2" y="645" font-size="8.5" text-anchor="end" textLength="9.79" lengthAdjust="spacingAndGlyphs" transform="rotate(-45 442.2 645)" stroke="#111" stroke-width="0.2">B6</text>
<text x="458.2" y="645" font-size="8.5" text-anchor="end" textLength="34.21" lengthAdjust="spacingAndGlyphs" transform="rotate(-45 458.2 645)" stroke="#111" stroke-width="0.2">FO B dep</text>
<text x="474.2" y="645" font-size="8.5" text-anchor="end" textLength="31.52" lengthAdjust="spacingAndGlyphs" transform="rotate(-45 474.2 645)" stroke="#111" stroke-width="0.2">FO B ctrl</text>
<text x="490.2" y="645" font-size="8.5" text-anchor="end" textLength="39.98" lengthAdjust="spacingAndGlyphs" transform="rotate(-45 490.2 645)" stroke="#111" stroke-width="0.2">Total B dep</text>
<text x="506.2" y="645" font-size="8.5" text-anchor="end" textLength="37.31" lengthAdjust="spacingAndGlyphs" transform="rotate(-45 506.2 645)" stroke="#111" stroke-width="0.2">Total B ctrl</text>
<path d="M431.8 535.5V533H505.5V535.5" fill="none" stroke="#000" stroke-width="1.35"/>
<text x="468.8" y="531.4" font-size="5.5" text-anchor="middle" font-style="italic">ns</text>
<path d="M431.8 541.9V539.4H490V541.9" fill="none" stroke="#000" stroke-width="1.35"/>
<text x="460.8" y="540.3" font-size="5.7" text-anchor="middle" textLength="7.5" lengthAdjust="spacingAndGlyphs" stroke="#111" stroke-width="0.15">***</text>
<path d="M431.8 548.3V545.8H475.8V548.3" fill="none" stroke="#000" stroke-width="1.35"/>
<text x="453.8" y="544.2" font-size="5.5" text-anchor="middle" font-style="italic">ns</text>
<path d="M431.8 554.5V552H460V554.5" fill="none" stroke="#000" stroke-width="1.35"/>
<text x="446.3" y="552.9" font-size="5.7" text-anchor="middle" textLength="2.5" lengthAdjust="spacingAndGlyphs" stroke="#111" stroke-width="0.15">*</text>
<text x="469.2" y="522.8" font-size="9.9" text-anchor="middle" textLength="41.6" lengthAdjust="spacingAndGlyphs">D14 IgG3</text>
<text x="403" y="589.2" font-size="9.3" text-anchor="middle" textLength="59" lengthAdjust="spacingAndGlyphs" transform="rotate(-90 403 589.2)" stroke="#111" stroke-width="0.15">Anti-HOD IgG MFI</text>
</g>
<path d="M0 0H520V679H0Z M1.2 1.1V677.6H518.7V1.1Z" fill="#000" fill-rule="evenodd"/>
</svg>
</body></html>
